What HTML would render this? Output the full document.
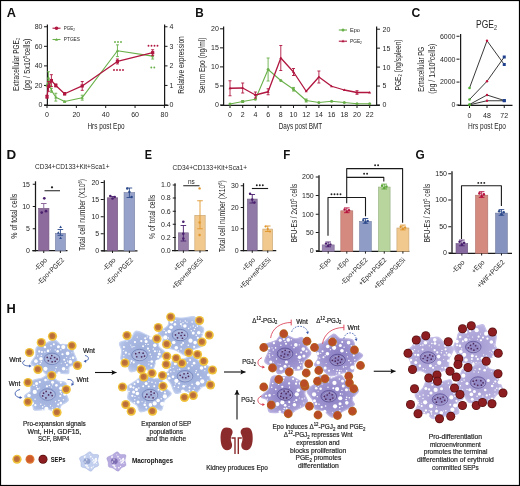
<!DOCTYPE html>
<html><head><meta charset="utf-8"><style>
html,body{margin:0;padding:0;background:#fff;}
svg{display:block;font-family:"Liberation Sans", sans-serif;will-change:transform;}
</style></head><body>
<svg width="520" height="486" viewBox="0 0 520 486">
<defs><radialGradient id="gB" cx="50%" cy="50%" r="55%"><stop offset="0" stop-color="#9cadda"/><stop offset="0.75" stop-color="#aabae3"/><stop offset="1" stop-color="#bccaeb"/></radialGradient><radialGradient id="gP" cx="50%" cy="50%" r="55%"><stop offset="0" stop-color="#897dc2"/><stop offset="0.65" stop-color="#9f96d1"/><stop offset="1" stop-color="#b8b0e0"/></radialGradient><radialGradient id="gS1" cx="45%" cy="45%" r="55%"><stop offset="0" stop-color="#b5653a"/><stop offset="1" stop-color="#c67e3a"/></radialGradient><radialGradient id="gP2" cx="50%" cy="50%" r="55%"><stop offset="0" stop-color="#a59bd2"/><stop offset="0.7" stop-color="#b3acdc"/><stop offset="1" stop-color="#c4bee6"/></radialGradient></defs>
<rect x="0" y="0" width="520" height="486" fill="#fff"/>
<text x="0" y="0" font-size="12.2" font-weight="bold" fill="#111" transform="matrix(1.046 0 0 1 6.71 16.6)">A</text>
<line x1="47.4" y1="24.5" x2="47.4" y2="106" stroke="#1a1a1a" stroke-width="1.25"/>
<line x1="44.2" y1="105.4" x2="168.5" y2="105.4" stroke="#1a1a1a" stroke-width="1.25"/>
<line x1="164.6" y1="24.5" x2="164.6" y2="106" stroke="#1a1a1a" stroke-width="1.25"/>
<line x1="44" y1="105.0" x2="47" y2="105.0" stroke="#1a1a1a" stroke-width="1"/>
<text x="42.5" y="107.4" font-size="7" text-anchor="end" fill="#262626" font-weight="normal">0</text>
<line x1="44" y1="85.44" x2="47" y2="85.44" stroke="#1a1a1a" stroke-width="1"/>
<text x="42.5" y="87.84" font-size="7" text-anchor="end" fill="#262626" font-weight="normal">20</text>
<line x1="44" y1="65.88" x2="47" y2="65.88" stroke="#1a1a1a" stroke-width="1"/>
<text x="42.5" y="68.28" font-size="7" text-anchor="end" fill="#262626" font-weight="normal">40</text>
<line x1="44" y1="46.32" x2="47" y2="46.32" stroke="#1a1a1a" stroke-width="1"/>
<text x="42.5" y="48.72" font-size="7" text-anchor="end" fill="#262626" font-weight="normal">60</text>
<line x1="44" y1="26.760000000000005" x2="47" y2="26.760000000000005" stroke="#1a1a1a" stroke-width="1"/>
<text x="42.5" y="29.160000000000004" font-size="7" text-anchor="end" fill="#262626" font-weight="normal">80</text>
<line x1="47.0" y1="105" x2="47.0" y2="108" stroke="#1a1a1a" stroke-width="1"/>
<text x="47.0" y="117" font-size="7" text-anchor="middle" fill="#262626" font-weight="normal">0</text>
<line x1="76.35" y1="105" x2="76.35" y2="108" stroke="#1a1a1a" stroke-width="1"/>
<text x="76.35" y="117" font-size="7" text-anchor="middle" fill="#262626" font-weight="normal">20</text>
<line x1="105.7" y1="105" x2="105.7" y2="108" stroke="#1a1a1a" stroke-width="1"/>
<text x="105.7" y="117" font-size="7" text-anchor="middle" fill="#262626" font-weight="normal">40</text>
<line x1="135.05" y1="105" x2="135.05" y2="108" stroke="#1a1a1a" stroke-width="1"/>
<text x="135.05" y="117" font-size="7" text-anchor="middle" fill="#262626" font-weight="normal">60</text>
<line x1="164.4" y1="105" x2="164.4" y2="108" stroke="#1a1a1a" stroke-width="1"/>
<text x="164.4" y="117" font-size="7" text-anchor="middle" fill="#262626" font-weight="normal">80</text>
<line x1="164.5" y1="105.0" x2="167.5" y2="105.0" stroke="#1a1a1a" stroke-width="1"/>
<text x="169.5" y="107.4" font-size="7" text-anchor="start" fill="#262626" font-weight="normal">0</text>
<line x1="164.5" y1="85.44" x2="167.5" y2="85.44" stroke="#1a1a1a" stroke-width="1"/>
<text x="169.5" y="87.84" font-size="7" text-anchor="start" fill="#262626" font-weight="normal">1</text>
<line x1="164.5" y1="65.88" x2="167.5" y2="65.88" stroke="#1a1a1a" stroke-width="1"/>
<text x="169.5" y="68.28" font-size="7" text-anchor="start" fill="#262626" font-weight="normal">2</text>
<line x1="164.5" y1="46.32000000000001" x2="167.5" y2="46.32000000000001" stroke="#1a1a1a" stroke-width="1"/>
<text x="169.5" y="48.720000000000006" font-size="7" text-anchor="start" fill="#262626" font-weight="normal">3</text>
<line x1="164.5" y1="26.760000000000005" x2="167.5" y2="26.760000000000005" stroke="#1a1a1a" stroke-width="1"/>
<text x="169.5" y="29.160000000000004" font-size="7" text-anchor="start" fill="#262626" font-weight="normal">4</text>
<text x="106" y="128.5" font-size="9" text-anchor="middle" fill="#262626" font-weight="normal" textLength="37" lengthAdjust="spacingAndGlyphs">Hrs post Epo</text>
<text x="18.8" y="64.5" font-size="9.5" text-anchor="middle" fill="#262626" font-weight="normal" textLength="53" lengthAdjust="spacingAndGlyphs" transform="rotate(-90 18.8 64.5)">Extracellular PGE<tspan font-size="5.5" dy="1.5">2</tspan></text>
<text x="29.8" y="64.5" font-size="9.5" text-anchor="middle" fill="#262626" font-weight="normal" textLength="52" lengthAdjust="spacingAndGlyphs" transform="rotate(-90 29.8 64.5)">(pg / 5x10<tspan font-size="5.5" dy="-3">5</tspan><tspan dy="3">cells)</tspan></text>
<text x="184" y="65" font-size="9" text-anchor="middle" fill="#262626" font-weight="normal" textLength="57.5" lengthAdjust="spacingAndGlyphs" transform="rotate(-90 184 65)">Relative expression</text>
<polyline points="47.00,85.44 48.47,77.62 51.40,90.33 55.80,97.18 64.61,101.58 82.22,97.67 117.44,50.72 152.66,56.10" fill="none" stroke="#6ab04a" stroke-width="1.1" stroke-linejoin="round"/>
<path d="M45.4,86.64 L48.6,86.64 L47.0,83.84 Z" fill="#6ab04a"/>
<line x1="48.4675" y1="83.48400000000001" x2="48.4675" y2="71.74799999999999" stroke="#6ab04a" stroke-width="0.9"/>
<line x1="46.9675" y1="71.74799999999999" x2="49.9675" y2="71.74799999999999" stroke="#6ab04a" stroke-width="0.9"/>
<line x1="46.9675" y1="83.48400000000001" x2="49.9675" y2="83.48400000000001" stroke="#6ab04a" stroke-width="0.9"/>
<path d="M46.8675,78.816 L50.0675,78.816 L48.4675,76.016 Z" fill="#6ab04a"/>
<line x1="51.4025" y1="92.286" x2="51.4025" y2="88.374" stroke="#6ab04a" stroke-width="0.9"/>
<line x1="49.9025" y1="88.374" x2="52.9025" y2="88.374" stroke="#6ab04a" stroke-width="0.9"/>
<line x1="49.9025" y1="92.286" x2="52.9025" y2="92.286" stroke="#6ab04a" stroke-width="0.9"/>
<path d="M49.8025,91.53 L53.002500000000005,91.53 L51.4025,88.73 Z" fill="#6ab04a"/>
<line x1="55.805" y1="101.088" x2="55.805" y2="93.264" stroke="#6ab04a" stroke-width="0.9"/>
<line x1="54.305" y1="93.264" x2="57.305" y2="93.264" stroke="#6ab04a" stroke-width="0.9"/>
<line x1="54.305" y1="101.088" x2="57.305" y2="101.088" stroke="#6ab04a" stroke-width="0.9"/>
<path d="M54.205,98.376 L57.405,98.376 L55.805,95.57600000000001 Z" fill="#6ab04a"/>
<line x1="64.61" y1="102.066" x2="64.61" y2="101.088" stroke="#6ab04a" stroke-width="0.9"/>
<line x1="63.11" y1="101.088" x2="66.11" y2="101.088" stroke="#6ab04a" stroke-width="0.9"/>
<line x1="63.11" y1="102.066" x2="66.11" y2="102.066" stroke="#6ab04a" stroke-width="0.9"/>
<path d="M63.01,102.777 L66.21,102.777 L64.61,99.977 Z" fill="#6ab04a"/>
<line x1="82.22" y1="100.11" x2="82.22" y2="95.22" stroke="#6ab04a" stroke-width="0.9"/>
<line x1="80.72" y1="95.22" x2="83.72" y2="95.22" stroke="#6ab04a" stroke-width="0.9"/>
<line x1="80.72" y1="100.11" x2="83.72" y2="100.11" stroke="#6ab04a" stroke-width="0.9"/>
<path d="M80.62,98.86500000000001 L83.82,98.86500000000001 L82.22,96.06500000000001 Z" fill="#6ab04a"/>
<line x1="117.44" y1="56.589" x2="117.44" y2="44.853" stroke="#6ab04a" stroke-width="0.9"/>
<line x1="115.94" y1="44.853" x2="118.94" y2="44.853" stroke="#6ab04a" stroke-width="0.9"/>
<line x1="115.94" y1="56.589" x2="118.94" y2="56.589" stroke="#6ab04a" stroke-width="0.9"/>
<path d="M115.84,51.92100000000001 L119.03999999999999,51.92100000000001 L117.44,49.121 Z" fill="#6ab04a"/>
<line x1="152.66" y1="59.034" x2="152.66" y2="53.166000000000004" stroke="#6ab04a" stroke-width="0.9"/>
<line x1="151.16" y1="53.166000000000004" x2="154.16" y2="53.166000000000004" stroke="#6ab04a" stroke-width="0.9"/>
<line x1="151.16" y1="59.034" x2="154.16" y2="59.034" stroke="#6ab04a" stroke-width="0.9"/>
<path d="M151.06,57.300000000000004 L154.26,57.300000000000004 L152.66,54.5 Z" fill="#6ab04a"/>
<polyline points="47.00,96.69 48.47,86.42 51.40,80.55 55.80,85.44 64.61,93.75 82.22,85.93 117.44,61.48 152.66,52.68" fill="none" stroke="#b0163f" stroke-width="1.3" stroke-linejoin="round"/>
<line x1="47.0" y1="98.154" x2="47.0" y2="95.22" stroke="#b0163f" stroke-width="0.9"/>
<line x1="45.5" y1="95.22" x2="48.5" y2="95.22" stroke="#b0163f" stroke-width="0.9"/>
<line x1="45.5" y1="98.154" x2="48.5" y2="98.154" stroke="#b0163f" stroke-width="0.9"/>
<rect x="45.40" y="95.09" width="3.2" height="3.2" fill="#b0163f"/>
<line x1="48.4675" y1="91.30799999999999" x2="48.4675" y2="81.52799999999999" stroke="#b0163f" stroke-width="0.9"/>
<line x1="46.9675" y1="81.52799999999999" x2="49.9675" y2="81.52799999999999" stroke="#b0163f" stroke-width="0.9"/>
<line x1="46.9675" y1="91.30799999999999" x2="49.9675" y2="91.30799999999999" stroke="#b0163f" stroke-width="0.9"/>
<rect x="46.87" y="84.82" width="3.2" height="3.2" fill="#b0163f"/>
<line x1="51.4025" y1="86.418" x2="51.4025" y2="74.682" stroke="#b0163f" stroke-width="0.9"/>
<line x1="49.9025" y1="74.682" x2="52.9025" y2="74.682" stroke="#b0163f" stroke-width="0.9"/>
<line x1="49.9025" y1="86.418" x2="52.9025" y2="86.418" stroke="#b0163f" stroke-width="0.9"/>
<rect x="49.80" y="78.95" width="3.2" height="3.2" fill="#b0163f"/>
<line x1="55.805" y1="86.907" x2="55.805" y2="83.973" stroke="#b0163f" stroke-width="0.9"/>
<line x1="54.305" y1="83.973" x2="57.305" y2="83.973" stroke="#b0163f" stroke-width="0.9"/>
<line x1="54.305" y1="86.907" x2="57.305" y2="86.907" stroke="#b0163f" stroke-width="0.9"/>
<rect x="54.20" y="83.84" width="3.2" height="3.2" fill="#b0163f"/>
<line x1="64.61" y1="94.9266" x2="64.61" y2="92.5794" stroke="#b0163f" stroke-width="0.9"/>
<line x1="63.11" y1="92.5794" x2="66.11" y2="92.5794" stroke="#b0163f" stroke-width="0.9"/>
<line x1="63.11" y1="94.9266" x2="66.11" y2="94.9266" stroke="#b0163f" stroke-width="0.9"/>
<rect x="63.01" y="92.15" width="3.2" height="3.2" fill="#b0163f"/>
<line x1="82.22" y1="90.33" x2="82.22" y2="81.52799999999999" stroke="#b0163f" stroke-width="0.9"/>
<line x1="80.72" y1="81.52799999999999" x2="83.72" y2="81.52799999999999" stroke="#b0163f" stroke-width="0.9"/>
<line x1="80.72" y1="90.33" x2="83.72" y2="90.33" stroke="#b0163f" stroke-width="0.9"/>
<rect x="80.62" y="84.33" width="3.2" height="3.2" fill="#b0163f"/>
<line x1="117.44" y1="63.924" x2="117.44" y2="59.034" stroke="#b0163f" stroke-width="0.9"/>
<line x1="115.94" y1="59.034" x2="118.94" y2="59.034" stroke="#b0163f" stroke-width="0.9"/>
<line x1="115.94" y1="63.924" x2="118.94" y2="63.924" stroke="#b0163f" stroke-width="0.9"/>
<rect x="115.84" y="59.88" width="3.2" height="3.2" fill="#b0163f"/>
<line x1="152.66" y1="55.611000000000004" x2="152.66" y2="49.743" stroke="#b0163f" stroke-width="0.9"/>
<line x1="151.16" y1="49.743" x2="154.16" y2="49.743" stroke="#b0163f" stroke-width="0.9"/>
<line x1="151.16" y1="55.611000000000004" x2="154.16" y2="55.611000000000004" stroke="#b0163f" stroke-width="0.9"/>
<rect x="151.06" y="51.08" width="3.2" height="3.2" fill="#b0163f"/>
<line x1="52.5" y1="28.2" x2="60.5" y2="28.2" stroke="#b0163f" stroke-width="1.1"/>
<circle cx="56.5" cy="28.2" r="1.8" fill="#b0163f"/>
<text x="63.8" y="30" font-size="5.6" text-anchor="start" fill="#262626" font-weight="normal" textLength="11.2" lengthAdjust="spacingAndGlyphs">PGE<tspan font-size="4" dy="1">2</tspan></text>
<line x1="52.5" y1="39.5" x2="60.5" y2="39.5" stroke="#6ab04a" stroke-width="1.1"/>
<path d="M55,40.7 L58,40.7 L56.5,38 Z" fill="#6ab04a"/>
<text x="63.8" y="41.1" font-size="5.6" text-anchor="start" fill="#262626" font-weight="normal" textLength="16.2" lengthAdjust="spacingAndGlyphs">PTGES</text>
<circle cx="115.00" cy="42" r="0.95" fill="#6ab04a"/>
<circle cx="118.00" cy="42" r="0.95" fill="#6ab04a"/>
<circle cx="121.00" cy="42" r="0.95" fill="#6ab04a"/>
<circle cx="114.00" cy="70" r="0.95" fill="#b0163f"/>
<circle cx="117.00" cy="70" r="0.95" fill="#b0163f"/>
<circle cx="120.00" cy="70" r="0.95" fill="#b0163f"/>
<circle cx="123.00" cy="70" r="0.95" fill="#b0163f"/>
<circle cx="148.50" cy="45.8" r="0.95" fill="#b0163f"/>
<circle cx="151.50" cy="45.8" r="0.95" fill="#b0163f"/>
<circle cx="154.50" cy="45.8" r="0.95" fill="#b0163f"/>
<circle cx="157.50" cy="45.8" r="0.95" fill="#b0163f"/>
<circle cx="151.30" cy="67.5" r="0.95" fill="#6ab04a"/>
<circle cx="154.30" cy="67.5" r="0.95" fill="#6ab04a"/>
<text x="0" y="0" font-size="12.2" font-weight="bold" fill="#111" transform="matrix(0.963 0 0 1 195.16 16.6)">B</text>
<line x1="223.6" y1="26.5" x2="223.6" y2="106" stroke="#1a1a1a" stroke-width="1.25"/>
<line x1="220.6" y1="105.4" x2="379.8" y2="105.4" stroke="#1a1a1a" stroke-width="1.25"/>
<line x1="376.6" y1="26.5" x2="376.6" y2="106" stroke="#1a1a1a" stroke-width="1.25"/>
<line x1="220" y1="105.0" x2="223" y2="105.0" stroke="#1a1a1a" stroke-width="1"/>
<text x="218.8" y="107.4" font-size="7" text-anchor="end" fill="#262626" font-weight="normal">0</text>
<line x1="377" y1="105.0" x2="380" y2="105.0" stroke="#1a1a1a" stroke-width="1"/>
<text x="382.5" y="107.4" font-size="7" text-anchor="start" fill="#262626" font-weight="normal">0</text>
<line x1="220" y1="85.95" x2="223" y2="85.95" stroke="#1a1a1a" stroke-width="1"/>
<text x="218.8" y="88.35000000000001" font-size="7" text-anchor="end" fill="#262626" font-weight="normal">5</text>
<line x1="377" y1="86.05" x2="380" y2="86.05" stroke="#1a1a1a" stroke-width="1"/>
<text x="382.5" y="88.45" font-size="7" text-anchor="start" fill="#262626" font-weight="normal">5</text>
<line x1="220" y1="66.9" x2="223" y2="66.9" stroke="#1a1a1a" stroke-width="1"/>
<text x="218.8" y="69.30000000000001" font-size="7" text-anchor="end" fill="#262626" font-weight="normal">10</text>
<line x1="377" y1="67.1" x2="380" y2="67.1" stroke="#1a1a1a" stroke-width="1"/>
<text x="382.5" y="69.5" font-size="7" text-anchor="start" fill="#262626" font-weight="normal">10</text>
<line x1="220" y1="47.85" x2="223" y2="47.85" stroke="#1a1a1a" stroke-width="1"/>
<text x="218.8" y="50.25" font-size="7" text-anchor="end" fill="#262626" font-weight="normal">15</text>
<line x1="377" y1="48.15" x2="380" y2="48.15" stroke="#1a1a1a" stroke-width="1"/>
<text x="382.5" y="50.55" font-size="7" text-anchor="start" fill="#262626" font-weight="normal">15</text>
<line x1="220" y1="28.799999999999997" x2="223" y2="28.799999999999997" stroke="#1a1a1a" stroke-width="1"/>
<text x="218.8" y="31.199999999999996" font-size="7" text-anchor="end" fill="#262626" font-weight="normal">20</text>
<line x1="377" y1="29.200000000000003" x2="380" y2="29.200000000000003" stroke="#1a1a1a" stroke-width="1"/>
<text x="382.5" y="31.6" font-size="7" text-anchor="start" fill="#262626" font-weight="normal">20</text>
<line x1="230.0" y1="105" x2="230.0" y2="108" stroke="#1a1a1a" stroke-width="1"/>
<text x="230.0" y="117" font-size="7" text-anchor="middle" fill="#262626" font-weight="normal">0</text>
<line x1="242.7" y1="105" x2="242.7" y2="108" stroke="#1a1a1a" stroke-width="1"/>
<text x="242.7" y="117" font-size="7" text-anchor="middle" fill="#262626" font-weight="normal">2</text>
<line x1="255.4" y1="105" x2="255.4" y2="108" stroke="#1a1a1a" stroke-width="1"/>
<text x="255.4" y="117" font-size="7" text-anchor="middle" fill="#262626" font-weight="normal">4</text>
<line x1="268.1" y1="105" x2="268.1" y2="108" stroke="#1a1a1a" stroke-width="1"/>
<text x="268.1" y="117" font-size="7" text-anchor="middle" fill="#262626" font-weight="normal">6</text>
<line x1="280.8" y1="105" x2="280.8" y2="108" stroke="#1a1a1a" stroke-width="1"/>
<text x="280.8" y="117" font-size="7" text-anchor="middle" fill="#262626" font-weight="normal">8</text>
<line x1="293.5" y1="105" x2="293.5" y2="108" stroke="#1a1a1a" stroke-width="1"/>
<text x="293.5" y="117" font-size="7" text-anchor="middle" fill="#262626" font-weight="normal">10</text>
<line x1="306.2" y1="105" x2="306.2" y2="108" stroke="#1a1a1a" stroke-width="1"/>
<text x="306.2" y="117" font-size="7" text-anchor="middle" fill="#262626" font-weight="normal">12</text>
<line x1="318.9" y1="105" x2="318.9" y2="108" stroke="#1a1a1a" stroke-width="1"/>
<text x="318.9" y="117" font-size="7" text-anchor="middle" fill="#262626" font-weight="normal">14</text>
<line x1="331.6" y1="105" x2="331.6" y2="108" stroke="#1a1a1a" stroke-width="1"/>
<text x="331.6" y="117" font-size="7" text-anchor="middle" fill="#262626" font-weight="normal">16</text>
<line x1="344.3" y1="105" x2="344.3" y2="108" stroke="#1a1a1a" stroke-width="1"/>
<text x="344.3" y="117" font-size="7" text-anchor="middle" fill="#262626" font-weight="normal">18</text>
<line x1="357.0" y1="105" x2="357.0" y2="108" stroke="#1a1a1a" stroke-width="1"/>
<text x="357.0" y="117" font-size="7" text-anchor="middle" fill="#262626" font-weight="normal">20</text>
<line x1="369.7" y1="105" x2="369.7" y2="108" stroke="#1a1a1a" stroke-width="1"/>
<text x="369.7" y="117" font-size="7" text-anchor="middle" fill="#262626" font-weight="normal">22</text>
<text x="300.4" y="128.5" font-size="9" text-anchor="middle" fill="#262626" font-weight="normal" textLength="43.5" lengthAdjust="spacingAndGlyphs">Days post BMT</text>
<text x="205" y="65.6" font-size="9" text-anchor="middle" fill="#262626" font-weight="normal" textLength="56" lengthAdjust="spacingAndGlyphs" transform="rotate(-90 205 65.6)">Serum Epo (ng/ml)</text>
<text x="400.8" y="65.0" font-size="9" text-anchor="middle" fill="#262626" font-weight="normal" textLength="51" lengthAdjust="spacingAndGlyphs" transform="rotate(-90 400.8 65.0)">PGE<tspan font-size="5.5" dy="1.5">2</tspan><tspan dy="-1.5"> (ng/spleen)</tspan></text>
<polyline points="230.00,104.00 242.70,101.50 255.40,99.25 268.10,69.50 280.80,80.50 293.50,89.25 306.20,100.50 318.90,102.50 331.60,101.25 344.30,102.50 357.00,103.75 369.70,103.75" fill="none" stroke="#6ab04a" stroke-width="1.1" stroke-linejoin="round"/>
<circle cx="230.00" cy="104" r="1.5" fill="#6ab04a"/>
<line x1="242.7" y1="100.5" x2="242.7" y2="102.5" stroke="#6ab04a" stroke-width="0.9"/>
<line x1="241.2" y1="100.5" x2="244.2" y2="100.5" stroke="#6ab04a" stroke-width="0.9"/>
<line x1="241.2" y1="102.5" x2="244.2" y2="102.5" stroke="#6ab04a" stroke-width="0.9"/>
<circle cx="242.70" cy="101.5" r="1.5" fill="#6ab04a"/>
<circle cx="255.40" cy="99.25" r="1.5" fill="#6ab04a"/>
<line x1="268.1" y1="58.0" x2="268.1" y2="81.0" stroke="#6ab04a" stroke-width="0.9"/>
<line x1="266.6" y1="58.0" x2="269.6" y2="58.0" stroke="#6ab04a" stroke-width="0.9"/>
<line x1="266.6" y1="81.0" x2="269.6" y2="81.0" stroke="#6ab04a" stroke-width="0.9"/>
<circle cx="268.10" cy="69.5" r="1.5" fill="#6ab04a"/>
<circle cx="280.80" cy="80.5" r="1.5" fill="#6ab04a"/>
<line x1="293.5" y1="87.45" x2="293.5" y2="91.05" stroke="#6ab04a" stroke-width="0.9"/>
<line x1="292.0" y1="87.45" x2="295.0" y2="87.45" stroke="#6ab04a" stroke-width="0.9"/>
<line x1="292.0" y1="91.05" x2="295.0" y2="91.05" stroke="#6ab04a" stroke-width="0.9"/>
<circle cx="293.50" cy="89.25" r="1.5" fill="#6ab04a"/>
<line x1="306.2" y1="99.0" x2="306.2" y2="102.0" stroke="#6ab04a" stroke-width="0.9"/>
<line x1="304.7" y1="99.0" x2="307.7" y2="99.0" stroke="#6ab04a" stroke-width="0.9"/>
<line x1="304.7" y1="102.0" x2="307.7" y2="102.0" stroke="#6ab04a" stroke-width="0.9"/>
<circle cx="306.20" cy="100.5" r="1.5" fill="#6ab04a"/>
<circle cx="318.90" cy="102.5" r="1.5" fill="#6ab04a"/>
<circle cx="331.60" cy="101.25" r="1.5" fill="#6ab04a"/>
<circle cx="344.30" cy="102.5" r="1.5" fill="#6ab04a"/>
<circle cx="357.00" cy="103.75" r="1.5" fill="#6ab04a"/>
<circle cx="369.70" cy="103.75" r="1.5" fill="#6ab04a"/>
<polyline points="230.00,88.25 242.70,88.00 255.40,95.00 268.10,91.75 280.80,58.00 293.50,72.00 306.20,91.25 318.90,77.00 331.60,86.25 344.30,90.00 357.00,92.50 369.70,92.50" fill="none" stroke="#b0163f" stroke-width="1.3" stroke-linejoin="round"/>
<line x1="230.0" y1="80.75" x2="230.0" y2="95.75" stroke="#b0163f" stroke-width="0.9"/>
<line x1="228.5" y1="80.75" x2="231.5" y2="80.75" stroke="#b0163f" stroke-width="0.9"/>
<line x1="228.5" y1="95.75" x2="231.5" y2="95.75" stroke="#b0163f" stroke-width="0.9"/>
<path d="M228.50,89.35 L231.50,89.35 L230.00,86.75 Z" fill="#b0163f"/>
<line x1="242.7" y1="83" x2="242.7" y2="93" stroke="#b0163f" stroke-width="0.9"/>
<line x1="241.2" y1="83" x2="244.2" y2="83" stroke="#b0163f" stroke-width="0.9"/>
<line x1="241.2" y1="93" x2="244.2" y2="93" stroke="#b0163f" stroke-width="0.9"/>
<path d="M241.20,89.1 L244.20,89.1 L242.70,86.5 Z" fill="#b0163f"/>
<line x1="255.4" y1="92" x2="255.4" y2="98" stroke="#b0163f" stroke-width="0.9"/>
<line x1="253.9" y1="92" x2="256.9" y2="92" stroke="#b0163f" stroke-width="0.9"/>
<line x1="253.9" y1="98" x2="256.9" y2="98" stroke="#b0163f" stroke-width="0.9"/>
<path d="M253.90,96.1 L256.90,96.1 L255.40,93.5 Z" fill="#b0163f"/>
<line x1="268.1" y1="88.75" x2="268.1" y2="94.75" stroke="#b0163f" stroke-width="0.9"/>
<line x1="266.6" y1="88.75" x2="269.6" y2="88.75" stroke="#b0163f" stroke-width="0.9"/>
<line x1="266.6" y1="94.75" x2="269.6" y2="94.75" stroke="#b0163f" stroke-width="0.9"/>
<path d="M266.60,92.85 L269.60,92.85 L268.10,90.25 Z" fill="#b0163f"/>
<line x1="280.8" y1="45.5" x2="280.8" y2="70.5" stroke="#b0163f" stroke-width="0.9"/>
<line x1="279.3" y1="45.5" x2="282.3" y2="45.5" stroke="#b0163f" stroke-width="0.9"/>
<line x1="279.3" y1="70.5" x2="282.3" y2="70.5" stroke="#b0163f" stroke-width="0.9"/>
<path d="M279.30,59.1 L282.30,59.1 L280.80,56.5 Z" fill="#b0163f"/>
<line x1="293.5" y1="68.5" x2="293.5" y2="75.5" stroke="#b0163f" stroke-width="0.9"/>
<line x1="292.0" y1="68.5" x2="295.0" y2="68.5" stroke="#b0163f" stroke-width="0.9"/>
<line x1="292.0" y1="75.5" x2="295.0" y2="75.5" stroke="#b0163f" stroke-width="0.9"/>
<path d="M292.00,73.1 L295.00,73.1 L293.50,70.5 Z" fill="#b0163f"/>
<path d="M304.70,92.35 L307.70,92.35 L306.20,89.75 Z" fill="#b0163f"/>
<line x1="318.9" y1="71" x2="318.9" y2="83" stroke="#b0163f" stroke-width="0.9"/>
<line x1="317.4" y1="71" x2="320.4" y2="71" stroke="#b0163f" stroke-width="0.9"/>
<line x1="317.4" y1="83" x2="320.4" y2="83" stroke="#b0163f" stroke-width="0.9"/>
<path d="M317.40,78.1 L320.40,78.1 L318.90,75.5 Z" fill="#b0163f"/>
<path d="M330.10,87.35 L333.10,87.35 L331.60,84.75 Z" fill="#b0163f"/>
<path d="M342.80,91.1 L345.80,91.1 L344.30,88.5 Z" fill="#b0163f"/>
<line x1="357.0" y1="90.7" x2="357.0" y2="94.3" stroke="#b0163f" stroke-width="0.9"/>
<line x1="355.5" y1="90.7" x2="358.5" y2="90.7" stroke="#b0163f" stroke-width="0.9"/>
<line x1="355.5" y1="94.3" x2="358.5" y2="94.3" stroke="#b0163f" stroke-width="0.9"/>
<path d="M355.50,93.6 L358.50,93.6 L357.00,91.0 Z" fill="#b0163f"/>
<path d="M368.20,93.6 L371.20,93.6 L369.70,91.0 Z" fill="#b0163f"/>
<line x1="338.8" y1="30" x2="347" y2="30" stroke="#6ab04a" stroke-width="1.1"/>
<circle cx="343" cy="30" r="1.5" fill="#6ab04a"/>
<text x="350" y="32.0" font-size="5.6" text-anchor="start" fill="#262626" font-weight="normal" textLength="10" lengthAdjust="spacingAndGlyphs">Epo</text>
<line x1="338.8" y1="41.2" x2="347" y2="41.2" stroke="#b0163f" stroke-width="1.1"/>
<path d="M341.5,42.3 L344.5,42.3 L343,39.6 Z" fill="#b0163f"/>
<text x="350" y="43.2" font-size="5.6" text-anchor="start" fill="#262626" font-weight="normal" textLength="12" lengthAdjust="spacingAndGlyphs">PGE<tspan font-size="4" dy="1">2</tspan></text>
<text x="0" y="0" font-size="12.2" font-weight="bold" fill="#111" transform="matrix(1.003 0 0 1 411.6 16.58)">C</text>
<line x1="460.6" y1="34" x2="460.6" y2="106" stroke="#1a1a1a" stroke-width="1.25"/>
<line x1="457.8" y1="105.4" x2="512.5" y2="105.4" stroke="#1a1a1a" stroke-width="1.25"/>
<line x1="456.5" y1="105.0" x2="459.5" y2="105.0" stroke="#1a1a1a" stroke-width="1"/>
<text x="455.5" y="107.4" font-size="7" text-anchor="end" fill="#262626" font-weight="normal">0</text>
<line x1="456.5" y1="82.084" x2="459.5" y2="82.084" stroke="#1a1a1a" stroke-width="1"/>
<text x="455.5" y="84.48400000000001" font-size="7" text-anchor="end" fill="#262626" font-weight="normal">2000</text>
<line x1="456.5" y1="59.168" x2="459.5" y2="59.168" stroke="#1a1a1a" stroke-width="1"/>
<text x="455.5" y="61.568" font-size="7" text-anchor="end" fill="#262626" font-weight="normal">4000</text>
<line x1="456.5" y1="36.25200000000001" x2="459.5" y2="36.25200000000001" stroke="#1a1a1a" stroke-width="1"/>
<text x="455.5" y="38.65200000000001" font-size="7" text-anchor="end" fill="#262626" font-weight="normal">6000</text>
<line x1="469.5" y1="105" x2="469.5" y2="108" stroke="#1a1a1a" stroke-width="1"/>
<text x="469.5" y="117.5" font-size="7" text-anchor="middle" fill="#262626" font-weight="normal">0</text>
<line x1="487" y1="105" x2="487" y2="108" stroke="#1a1a1a" stroke-width="1"/>
<text x="487" y="117.5" font-size="7" text-anchor="middle" fill="#262626" font-weight="normal">48</text>
<line x1="504.25" y1="105" x2="504.25" y2="108" stroke="#1a1a1a" stroke-width="1"/>
<text x="504.25" y="117.5" font-size="7" text-anchor="middle" fill="#262626" font-weight="normal">72</text>
<text x="487" y="128.5" font-size="9" text-anchor="middle" fill="#262626" font-weight="normal" textLength="38" lengthAdjust="spacingAndGlyphs">Hrs post Epo</text>
<text x="486.5" y="27.5" font-size="10" text-anchor="middle" fill="#262626" font-weight="normal" textLength="21" lengthAdjust="spacingAndGlyphs">PGE<tspan font-size="6.5" dy="2">2</tspan></text>
<text x="424.5" y="69.3" font-size="9" text-anchor="middle" fill="#262626" font-weight="normal" textLength="45" lengthAdjust="spacingAndGlyphs" transform="rotate(-90 424.5 69.3)">Extracellular PG</text>
<text x="434.5" y="68.75" font-size="9" text-anchor="middle" fill="#262626" font-weight="normal" textLength="50" lengthAdjust="spacingAndGlyphs" transform="rotate(-90 434.5 68.75)">(pg / 1x10<tspan font-size="5.5" dy="-3">6</tspan><tspan dy="3">cells)</tspan></text>
<polyline points="469.50,88.00 487.00,40.75 504.25,64.50" fill="none" stroke="#222" stroke-width="0.9" stroke-linejoin="round"/>
<polyline points="469.50,99.50 487.00,81.25 504.25,57.00" fill="none" stroke="#222" stroke-width="0.9" stroke-linejoin="round"/>
<polyline points="469.50,104.50 487.00,95.00 504.25,100.50" fill="none" stroke="#222" stroke-width="0.9" stroke-linejoin="round"/>
<polyline points="469.50,104.80 487.00,100.75 504.25,100.75" fill="none" stroke="#222" stroke-width="0.9" stroke-linejoin="round"/>
<circle cx="469.5" cy="88" r="1.3" fill="#4caf30"/>
<circle cx="487" cy="40.75" r="1.2" fill="#c0153e"/>
<rect x="502.75" y="63.0" width="3" height="3" fill="#1f3f8f"/>
<circle cx="469.5" cy="99.5" r="1.3" fill="#4caf30"/>
<circle cx="487" cy="81.25" r="1.2" fill="#c0153e"/>
<rect x="502.75" y="55.5" width="3" height="3" fill="#1f3f8f"/>
<circle cx="469.5" cy="104.5" r="1.3" fill="#4caf30"/>
<circle cx="487" cy="95" r="1.2" fill="#c0153e"/>
<rect x="502.75" y="99.0" width="3" height="3" fill="#1f3f8f"/>
<circle cx="469.5" cy="104.8" r="1.3" fill="#4caf30"/>
<circle cx="487" cy="100.75" r="1.2" fill="#c0153e"/>
<rect x="502.75" y="99.25" width="3" height="3" fill="#1f3f8f"/>
<text x="0" y="0" font-size="12.2" font-weight="bold" fill="#111" transform="matrix(1.098 0 0 1 6.54 158.9)">D</text>
<text x="72.25" y="168.6" font-size="7" text-anchor="middle" fill="#262626" font-weight="normal" textLength="74.5" lengthAdjust="spacingAndGlyphs">CD34+CD133+Kit+Sca1+</text>
<line x1="35.5" y1="181.3" x2="35.5" y2="251.3" stroke="#1a1a1a" stroke-width="1.25"/>
<line x1="32.3" y1="250.7" x2="67.5" y2="250.7" stroke="#1a1a1a" stroke-width="1.25"/>
<line x1="32.75" y1="250.75" x2="35.75" y2="250.75" stroke="#1a1a1a" stroke-width="1"/>
<text x="30" y="253.15" font-size="7" text-anchor="end" fill="#262626" font-weight="normal">0</text>
<line x1="32.75" y1="228.75" x2="35.75" y2="228.75" stroke="#1a1a1a" stroke-width="1"/>
<text x="30" y="231.15" font-size="7" text-anchor="end" fill="#262626" font-weight="normal">5</text>
<line x1="32.75" y1="206.5" x2="35.75" y2="206.5" stroke="#1a1a1a" stroke-width="1"/>
<text x="30" y="208.9" font-size="7" text-anchor="end" fill="#262626" font-weight="normal">10</text>
<line x1="32.75" y1="184.25" x2="35.75" y2="184.25" stroke="#1a1a1a" stroke-width="1"/>
<text x="30" y="186.65" font-size="7" text-anchor="end" fill="#262626" font-weight="normal">15</text>
<rect x="38.55" y="208.3" width="10.4" height="42.45" fill="#8d6b9c" stroke="#73577f" stroke-width="0.6"/>
<line x1="43.75" y1="212" x2="43.75" y2="203.5" stroke="#8d6b9c" stroke-width="1"/>
<line x1="40.95" y1="203.5" x2="46.55" y2="203.5" stroke="#8d6b9c" stroke-width="1"/>
<line x1="40.95" y1="212" x2="46.55" y2="212" stroke="#8d6b9c" stroke-width="1"/>
<circle cx="44.3" cy="198.3" r="1.35" fill="#4a1f6e"/>
<circle cx="41.7" cy="212.6" r="1.35" fill="#4a1f6e"/>
<circle cx="46" cy="211.2" r="1.35" fill="#4a1f6e"/>
<rect x="55.3" y="233.3" width="10.15" height="17.45" fill="#97a2ca" stroke="#7b84a5" stroke-width="0.6"/>
<line x1="60.4" y1="235.3" x2="60.4" y2="229.5" stroke="#2c4a8c" stroke-width="0.9"/>
<line x1="57.6" y1="229.5" x2="63.199999999999996" y2="229.5" stroke="#2c4a8c" stroke-width="0.9"/>
<line x1="57.6" y1="235.3" x2="63.199999999999996" y2="235.3" stroke="#2c4a8c" stroke-width="0.9"/>
<path d="M59.2,227.9 L62.0,227.9 L60.6,225.4Z" fill="#2c4a8c"/>
<path d="M56.9,233.7 L59.699999999999996,233.7 L58.3,231.2Z" fill="#2c4a8c"/>
<path d="M59.2,239 L62.0,239 L60.6,236.5Z" fill="#2c4a8c"/>
<line x1="44.5" y1="190.75" x2="60" y2="190.75" stroke="#1a1a1a" stroke-width="1"/>
<circle cx="52" cy="187.3" r="1.15" fill="#222"/>
<line x1="43.75" y1="250.75" x2="43.75" y2="253" stroke="#1a1a1a" stroke-width="1"/>
<line x1="60.4" y1="250.75" x2="60.4" y2="253" stroke="#1a1a1a" stroke-width="1"/>
<text x="47.6" y="260.5" font-size="7" text-anchor="end" fill="#262626" font-weight="normal" textLength="15" lengthAdjust="spacingAndGlyphs" transform="rotate(-45 47.6 260.5)">-Epo</text>
<text x="64.6" y="260.5" font-size="7" text-anchor="end" fill="#262626" font-weight="normal" textLength="35" lengthAdjust="spacingAndGlyphs" transform="rotate(-45 64.6 260.5)">-Epo+PGE2</text>
<text x="16.8" y="216.25" font-size="9" text-anchor="middle" fill="#262626" font-weight="normal" textLength="45" lengthAdjust="spacingAndGlyphs" transform="rotate(-90 16.8 216.25)">% of total cells</text>
<line x1="104.3" y1="180.3" x2="104.3" y2="251.4" stroke="#1a1a1a" stroke-width="1.25"/>
<line x1="101.3" y1="250.8" x2="137.5" y2="250.8" stroke="#1a1a1a" stroke-width="1.25"/>
<line x1="100.75" y1="250.75" x2="103.75" y2="250.75" stroke="#1a1a1a" stroke-width="1"/>
<text x="99.25" y="253.15" font-size="7" text-anchor="end" fill="#262626" font-weight="normal">0</text>
<line x1="100.75" y1="233.75" x2="103.75" y2="233.75" stroke="#1a1a1a" stroke-width="1"/>
<text x="99.25" y="236.15" font-size="7" text-anchor="end" fill="#262626" font-weight="normal">5</text>
<line x1="100.75" y1="216.75" x2="103.75" y2="216.75" stroke="#1a1a1a" stroke-width="1"/>
<text x="99.25" y="219.15" font-size="7" text-anchor="end" fill="#262626" font-weight="normal">10</text>
<line x1="100.75" y1="199.5" x2="103.75" y2="199.5" stroke="#1a1a1a" stroke-width="1"/>
<text x="99.25" y="201.9" font-size="7" text-anchor="end" fill="#262626" font-weight="normal">15</text>
<line x1="100.75" y1="182.5" x2="103.75" y2="182.5" stroke="#1a1a1a" stroke-width="1"/>
<text x="99.25" y="184.9" font-size="7" text-anchor="end" fill="#262626" font-weight="normal">20</text>
<rect x="107.3" y="197.8" width="10.4" height="52.95" fill="#8d6b9c" stroke="#73577f" stroke-width="0.6"/>
<circle cx="110.30" cy="196" r="1.3" fill="#4a1f6e"/>
<circle cx="112.50" cy="198.5" r="1.3" fill="#4a1f6e"/>
<circle cx="114.70" cy="197" r="1.3" fill="#4a1f6e"/>
<line x1="110" y1="196.5" x2="115" y2="196.5" stroke="#4a1f6e" stroke-width="0.9"/>
<rect x="124.05" y="192.5" width="10.65" height="58.250000000000014" fill="#97a2ca" stroke="#7b84a5" stroke-width="0.6"/>
<line x1="129.4" y1="197.5" x2="129.4" y2="188" stroke="#2c4a8c" stroke-width="0.9"/>
<line x1="126.60000000000001" y1="188" x2="132.20000000000002" y2="188" stroke="#2c4a8c" stroke-width="0.9"/>
<line x1="126.60000000000001" y1="197.5" x2="132.20000000000002" y2="197.5" stroke="#2c4a8c" stroke-width="0.9"/>
<circle cx="127.20" cy="188.5" r="1.2" fill="#2c4a8c"/>
<circle cx="129.40" cy="192" r="1.2" fill="#2c4a8c"/>
<circle cx="131.60" cy="197" r="1.2" fill="#2c4a8c"/>
<line x1="112.5" y1="250.75" x2="112.5" y2="253" stroke="#1a1a1a" stroke-width="1"/>
<line x1="129.4" y1="250.75" x2="129.4" y2="253" stroke="#1a1a1a" stroke-width="1"/>
<text x="116.1" y="260.5" font-size="7" text-anchor="end" fill="#262626" font-weight="normal" textLength="15" lengthAdjust="spacingAndGlyphs" transform="rotate(-45 116.1 260.5)">-Epo</text>
<text x="133.6" y="260.5" font-size="7" text-anchor="end" fill="#262626" font-weight="normal" textLength="35" lengthAdjust="spacingAndGlyphs" transform="rotate(-45 133.6 260.5)">-Epo+PGE2</text>
<text x="85" y="215" font-size="9" text-anchor="middle" fill="#262626" font-weight="normal" textLength="72" lengthAdjust="spacingAndGlyphs" transform="rotate(-90 85 215)">Total cell number (X10<tspan font-size="5.5" dy="-3">6</tspan><tspan dy="3">)</tspan></text>
<text x="0" y="0" font-size="12.2" font-weight="bold" fill="#111" transform="matrix(0.889 0 0 1 144.82 158.9)">E</text>
<text x="209.75" y="170.2" font-size="7" text-anchor="middle" fill="#262626" font-weight="normal" textLength="74.5" lengthAdjust="spacingAndGlyphs">CD34+CD133+Kit+Sca1+</text>
<line x1="175.0" y1="183.2" x2="175.0" y2="251.3" stroke="#1a1a1a" stroke-width="1.2"/>
<line x1="172" y1="250.7" x2="208" y2="250.7" stroke="#1a1a1a" stroke-width="1.25"/>
<line x1="172.75" y1="250.5" x2="175.75" y2="250.5" stroke="#1a1a1a" stroke-width="1"/>
<text x="170.75" y="252.9" font-size="7" text-anchor="end" fill="#262626" font-weight="normal">0.0</text>
<line x1="172.75" y1="237.5" x2="175.75" y2="237.5" stroke="#1a1a1a" stroke-width="1"/>
<text x="170.75" y="239.9" font-size="7" text-anchor="end" fill="#262626" font-weight="normal">0.2</text>
<line x1="172.75" y1="224.25" x2="175.75" y2="224.25" stroke="#1a1a1a" stroke-width="1"/>
<text x="170.75" y="226.65" font-size="7" text-anchor="end" fill="#262626" font-weight="normal">0.4</text>
<line x1="172.75" y1="211.25" x2="175.75" y2="211.25" stroke="#1a1a1a" stroke-width="1"/>
<text x="170.75" y="213.65" font-size="7" text-anchor="end" fill="#262626" font-weight="normal">0.6</text>
<line x1="172.75" y1="198" x2="175.75" y2="198" stroke="#1a1a1a" stroke-width="1"/>
<text x="170.75" y="200.4" font-size="7" text-anchor="end" fill="#262626" font-weight="normal">0.8</text>
<line x1="172.75" y1="185" x2="175.75" y2="185" stroke="#1a1a1a" stroke-width="1"/>
<text x="170.75" y="187.4" font-size="7" text-anchor="end" fill="#262626" font-weight="normal">1.0</text>
<rect x="178.3" y="232.8" width="10.15" height="17.7" fill="#9880ab" stroke="#7c688c" stroke-width="0.6"/>
<line x1="183.4" y1="241" x2="183.4" y2="225.5" stroke="#4a1f6e" stroke-width="0.9"/>
<line x1="180.6" y1="225.5" x2="186.20000000000002" y2="225.5" stroke="#4a1f6e" stroke-width="0.9"/>
<line x1="180.6" y1="241" x2="186.20000000000002" y2="241" stroke="#4a1f6e" stroke-width="0.9"/>
<circle cx="183.3" cy="221.8" r="1.3" fill="#4a1f6e"/>
<circle cx="183.3" cy="233.8" r="1.3" fill="#4a1f6e"/>
<circle cx="183.3" cy="238.6" r="1.3" fill="#4a1f6e"/>
<rect x="194.8" y="215.3" width="10.4" height="35.2" fill="#f1c98e" stroke="#c5a474" stroke-width="0.6"/>
<line x1="200" y1="228.75" x2="200" y2="200.75" stroke="#e0962c" stroke-width="0.9"/>
<line x1="197.2" y1="200.75" x2="202.8" y2="200.75" stroke="#e0962c" stroke-width="0.9"/>
<line x1="197.2" y1="228.75" x2="202.8" y2="228.75" stroke="#e0962c" stroke-width="0.9"/>
<circle cx="199.6" cy="188.4" r="1.2" fill="#e0962c"/>
<circle cx="199.6" cy="222.5" r="1.2" fill="#e0962c"/>
<circle cx="199.6" cy="235" r="1.2" fill="#e0962c"/>
<line x1="183.25" y1="185.75" x2="199.5" y2="185.75" stroke="#1a1a1a" stroke-width="1"/>
<text x="191.3" y="184.3" font-size="6.8" text-anchor="middle" fill="#262626" font-weight="normal" textLength="6.8" lengthAdjust="spacingAndGlyphs">ns</text>
<line x1="183.4" y1="250.5" x2="183.4" y2="252.8" stroke="#1a1a1a" stroke-width="1"/>
<line x1="200" y1="250.5" x2="200" y2="252.8" stroke="#1a1a1a" stroke-width="1"/>
<text x="187.1" y="260.5" font-size="7" text-anchor="end" fill="#262626" font-weight="normal" textLength="15.5" lengthAdjust="spacingAndGlyphs" transform="rotate(-45 187.1 260.5)">+Epo</text>
<text x="203.4" y="260.5" font-size="7" text-anchor="end" fill="#262626" font-weight="normal" textLength="41" lengthAdjust="spacingAndGlyphs" transform="rotate(-45 203.4 260.5)">+Epo+mPGESi</text>
<text x="155" y="216.9" font-size="9" text-anchor="middle" fill="#262626" font-weight="normal" textLength="44" lengthAdjust="spacingAndGlyphs" transform="rotate(-90 155 216.9)">% of total cells</text>
<line x1="243.5" y1="183.2" x2="243.5" y2="251.3" stroke="#1a1a1a" stroke-width="1.25"/>
<line x1="240.5" y1="250.7" x2="276.25" y2="250.7" stroke="#1a1a1a" stroke-width="1.25"/>
<line x1="240.75" y1="250.5" x2="243.75" y2="250.5" stroke="#1a1a1a" stroke-width="1"/>
<text x="238.75" y="252.9" font-size="7" text-anchor="end" fill="#262626" font-weight="normal">0</text>
<line x1="240.75" y1="228.75" x2="243.75" y2="228.75" stroke="#1a1a1a" stroke-width="1"/>
<text x="238.75" y="231.15" font-size="7" text-anchor="end" fill="#262626" font-weight="normal">10</text>
<line x1="240.75" y1="207.5" x2="243.75" y2="207.5" stroke="#1a1a1a" stroke-width="1"/>
<text x="238.75" y="209.9" font-size="7" text-anchor="end" fill="#262626" font-weight="normal">20</text>
<line x1="240.75" y1="185.75" x2="243.75" y2="185.75" stroke="#1a1a1a" stroke-width="1"/>
<text x="238.75" y="188.15" font-size="7" text-anchor="end" fill="#262626" font-weight="normal">30</text>
<rect x="247.3" y="199.05" width="9.9" height="51.45" fill="#9079a6" stroke="#766388" stroke-width="0.6"/>
<line x1="252.25" y1="203" x2="252.25" y2="194.5" stroke="#4a1f6e" stroke-width="0.9"/>
<line x1="249.45" y1="194.5" x2="255.05" y2="194.5" stroke="#4a1f6e" stroke-width="0.9"/>
<line x1="249.45" y1="203" x2="255.05" y2="203" stroke="#4a1f6e" stroke-width="0.9"/>
<circle cx="250.05" cy="193.75" r="1.2" fill="#4a1f6e"/>
<circle cx="252.25" cy="199.5" r="1.2" fill="#4a1f6e"/>
<circle cx="254.45" cy="202.5" r="1.2" fill="#4a1f6e"/>
<rect x="262.8" y="229.05" width="9.9" height="21.45" fill="#f1c98e" stroke="#c5a474" stroke-width="0.6"/>
<line x1="267.75" y1="231.5" x2="267.75" y2="226" stroke="#e0962c" stroke-width="0.9"/>
<line x1="264.95" y1="226" x2="270.55" y2="226" stroke="#e0962c" stroke-width="0.9"/>
<line x1="264.95" y1="231.5" x2="270.55" y2="231.5" stroke="#e0962c" stroke-width="0.9"/>
<circle cx="265.55" cy="226.5" r="1.1" fill="#e0962c"/>
<circle cx="267.75" cy="229" r="1.1" fill="#e0962c"/>
<circle cx="269.95" cy="231.5" r="1.1" fill="#e0962c"/>
<line x1="251.9" y1="188.5" x2="268.1" y2="188.5" stroke="#1a1a1a" stroke-width="1.1"/>
<circle cx="256.80" cy="185.2" r="0.95" fill="#222"/>
<circle cx="259.80" cy="185.2" r="0.95" fill="#222"/>
<circle cx="262.80" cy="185.2" r="0.95" fill="#222"/>
<line x1="252.25" y1="250.5" x2="252.25" y2="252.8" stroke="#1a1a1a" stroke-width="1"/>
<line x1="267.75" y1="250.5" x2="267.75" y2="252.8" stroke="#1a1a1a" stroke-width="1"/>
<text x="255.6" y="260.5" font-size="7" text-anchor="end" fill="#262626" font-weight="normal" textLength="15.5" lengthAdjust="spacingAndGlyphs" transform="rotate(-45 255.6 260.5)">+Epo</text>
<text x="271.1" y="260.5" font-size="7" text-anchor="end" fill="#262626" font-weight="normal" textLength="41" lengthAdjust="spacingAndGlyphs" transform="rotate(-45 271.1 260.5)">+Epo+mPGESi</text>
<text x="224.5" y="216.25" font-size="9" text-anchor="middle" fill="#262626" font-weight="normal" textLength="72" lengthAdjust="spacingAndGlyphs" transform="rotate(-90 224.5 216.25)">Total cell number (X10<tspan font-size="5.5" dy="-3">6</tspan><tspan dy="3">)</tspan></text>
<text x="0" y="0" font-size="12.2" font-weight="bold" fill="#111" transform="matrix(0.947 0 0 1 283.17 158.9)">F</text>
<line x1="319.0" y1="175.2" x2="319.0" y2="252" stroke="#1a1a1a" stroke-width="1.3"/>
<line x1="316" y1="251.4" x2="409.3" y2="251.4" stroke="#1a1a1a" stroke-width="1.2"/>
<line x1="315.75" y1="250.75" x2="318.75" y2="250.75" stroke="#1a1a1a" stroke-width="1"/>
<text x="313.75" y="253.15" font-size="7" text-anchor="end" fill="#262626" font-weight="normal">0</text>
<line x1="315.75" y1="232.5" x2="318.75" y2="232.5" stroke="#1a1a1a" stroke-width="1"/>
<text x="313.75" y="234.9" font-size="7" text-anchor="end" fill="#262626" font-weight="normal">50</text>
<line x1="315.75" y1="214.25" x2="318.75" y2="214.25" stroke="#1a1a1a" stroke-width="1"/>
<text x="313.75" y="216.65" font-size="7" text-anchor="end" fill="#262626" font-weight="normal">100</text>
<line x1="315.75" y1="195.5" x2="318.75" y2="195.5" stroke="#1a1a1a" stroke-width="1"/>
<text x="313.75" y="197.9" font-size="7" text-anchor="end" fill="#262626" font-weight="normal">150</text>
<line x1="315.75" y1="177" x2="318.75" y2="177" stroke="#1a1a1a" stroke-width="1"/>
<text x="313.75" y="179.4" font-size="7" text-anchor="end" fill="#262626" font-weight="normal">200</text>
<rect x="322.2" y="244.9" width="12.000000000000023" height="6.5000000000000115" fill="#9a84b2" stroke="#7e6c91" stroke-width="0.6"/>
<line x1="328.2" y1="246.79999999999998" x2="328.2" y2="242.0" stroke="#4a1f6e" stroke-width="0.9"/>
<line x1="325.4" y1="242.0" x2="331.0" y2="242.0" stroke="#4a1f6e" stroke-width="0.9"/>
<line x1="325.4" y1="246.79999999999998" x2="331.0" y2="246.79999999999998" stroke="#4a1f6e" stroke-width="0.9"/>
<circle cx="326.00" cy="243.6" r="1.2" fill="#4a1f6e"/>
<circle cx="328.20" cy="245.79999999999998" r="1.2" fill="#4a1f6e"/>
<circle cx="330.40" cy="244.4" r="1.2" fill="#4a1f6e"/>
<line x1="328.2" y1="251.4" x2="328.2" y2="253.6" stroke="#1a1a1a" stroke-width="1"/>
<rect x="340.8" y="210.8" width="12.000000000000023" height="40.60000000000001" fill="#d58a7f" stroke="#ae7168" stroke-width="0.6"/>
<line x1="346.8" y1="212.7" x2="346.8" y2="207.9" stroke="#b5123e" stroke-width="0.9"/>
<line x1="344.0" y1="207.9" x2="349.6" y2="207.9" stroke="#b5123e" stroke-width="0.9"/>
<line x1="344.0" y1="212.7" x2="349.6" y2="212.7" stroke="#b5123e" stroke-width="0.9"/>
<circle cx="344.60" cy="209.5" r="1.2" fill="#b5123e"/>
<circle cx="346.80" cy="211.7" r="1.2" fill="#b5123e"/>
<circle cx="349.00" cy="210.3" r="1.2" fill="#b5123e"/>
<line x1="346.8" y1="251.4" x2="346.8" y2="253.6" stroke="#1a1a1a" stroke-width="1"/>
<rect x="359.6" y="221.4" width="11.700000000000012" height="30.00000000000001" fill="#8f9dc6" stroke="#7580a2" stroke-width="0.6"/>
<line x1="365.45000000000005" y1="223.29999999999998" x2="365.45000000000005" y2="218.5" stroke="#2c4a8c" stroke-width="0.9"/>
<line x1="362.65000000000003" y1="218.5" x2="368.25000000000006" y2="218.5" stroke="#2c4a8c" stroke-width="0.9"/>
<line x1="362.65000000000003" y1="223.29999999999998" x2="368.25000000000006" y2="223.29999999999998" stroke="#2c4a8c" stroke-width="0.9"/>
<circle cx="363.25" cy="220.1" r="1.2" fill="#2c4a8c"/>
<circle cx="365.45" cy="222.29999999999998" r="1.2" fill="#2c4a8c"/>
<circle cx="367.65" cy="220.9" r="1.2" fill="#2c4a8c"/>
<line x1="365.45000000000005" y1="251.4" x2="365.45000000000005" y2="253.6" stroke="#1a1a1a" stroke-width="1"/>
<rect x="378.40000000000003" y="187.05" width="11.699999999999955" height="64.35000000000001" fill="#b7d59d" stroke="#96ae80" stroke-width="0.6"/>
<line x1="384.25" y1="188.95" x2="384.25" y2="184.15" stroke="#5aa636" stroke-width="0.9"/>
<line x1="381.45" y1="184.15" x2="387.05" y2="184.15" stroke="#5aa636" stroke-width="0.9"/>
<line x1="381.45" y1="188.95" x2="387.05" y2="188.95" stroke="#5aa636" stroke-width="0.9"/>
<circle cx="382.05" cy="185.75" r="1.2" fill="#5aa636"/>
<circle cx="384.25" cy="187.95" r="1.2" fill="#5aa636"/>
<circle cx="386.45" cy="186.55" r="1.2" fill="#5aa636"/>
<line x1="384.25" y1="251.4" x2="384.25" y2="253.6" stroke="#1a1a1a" stroke-width="1"/>
<rect x="396.90000000000003" y="228.0" width="11.999999999999966" height="23.400000000000016" fill="#f1c98e" stroke="#c5a474" stroke-width="0.6"/>
<line x1="402.9" y1="229.89999999999998" x2="402.9" y2="225.1" stroke="#e0962c" stroke-width="0.9"/>
<line x1="400.09999999999997" y1="225.1" x2="405.7" y2="225.1" stroke="#e0962c" stroke-width="0.9"/>
<line x1="400.09999999999997" y1="229.89999999999998" x2="405.7" y2="229.89999999999998" stroke="#e0962c" stroke-width="0.9"/>
<circle cx="400.70" cy="226.7" r="1.2" fill="#e0962c"/>
<circle cx="402.90" cy="228.89999999999998" r="1.2" fill="#e0962c"/>
<circle cx="405.10" cy="227.5" r="1.2" fill="#e0962c"/>
<line x1="402.9" y1="251.4" x2="402.9" y2="253.6" stroke="#1a1a1a" stroke-width="1"/>
<polyline points="328.00,235.80 328.00,197.50 365.50,197.50 365.50,216.20" fill="none" stroke="#1a1a1a" stroke-width="1.1" stroke-linejoin="round"/>
<circle cx="331.50" cy="194.3" r="0.95" fill="#222"/>
<circle cx="334.50" cy="194.3" r="0.95" fill="#222"/>
<circle cx="337.50" cy="194.3" r="0.95" fill="#222"/>
<circle cx="340.50" cy="194.3" r="0.95" fill="#222"/>
<polyline points="346.70,203.20 346.70,168.60 402.60,168.60 402.60,222.80" fill="none" stroke="#1a1a1a" stroke-width="1.1" stroke-linejoin="round"/>
<polyline points="346.70,177.40 383.80,177.40 383.80,181.50" fill="none" stroke="#1a1a1a" stroke-width="1.1" stroke-linejoin="round"/>
<circle cx="364.10" cy="173.8" r="0.95" fill="#222"/>
<circle cx="367.10" cy="173.8" r="0.95" fill="#222"/>
<circle cx="375.10" cy="165.2" r="0.95" fill="#222"/>
<circle cx="378.10" cy="165.2" r="0.95" fill="#222"/>
<text x="331.4" y="260.5" font-size="7" text-anchor="end" fill="#262626" font-weight="normal" textLength="15" lengthAdjust="spacingAndGlyphs" transform="rotate(-45 331.4 260.5)">-Epo</text>
<text x="349.4" y="260.5" font-size="7" text-anchor="end" fill="#262626" font-weight="normal" textLength="15.5" lengthAdjust="spacingAndGlyphs" transform="rotate(-45 349.4 260.5)">+Epo</text>
<text x="368.1" y="260.5" font-size="7" text-anchor="end" fill="#262626" font-weight="normal" textLength="35" lengthAdjust="spacingAndGlyphs" transform="rotate(-45 368.1 260.5)">-Epo+PGE2</text>
<text x="386.8" y="260.5" font-size="7" text-anchor="end" fill="#262626" font-weight="normal" textLength="36" lengthAdjust="spacingAndGlyphs" transform="rotate(-45 386.8 260.5)">+Epo+PGE2</text>
<text x="405.6" y="260.5" font-size="7" text-anchor="end" fill="#262626" font-weight="normal" textLength="41" lengthAdjust="spacingAndGlyphs" transform="rotate(-45 405.6 260.5)">+Epo+mPGESi</text>
<text x="297" y="213.1" font-size="9" text-anchor="middle" fill="#262626" font-weight="normal" textLength="58.5" lengthAdjust="spacingAndGlyphs" transform="rotate(-90 297 213.1)">BFU-Es / 2x10<tspan font-size="5.5" dy="-3">5</tspan><tspan dy="3"> cells</tspan></text>
<text x="0" y="0" font-size="12.2" font-weight="bold" fill="#111" transform="matrix(0.97 0 0 1 415.52 158.88)">G</text>
<line x1="452.0" y1="171.3" x2="452.0" y2="253.9" stroke="#1a1a1a" stroke-width="1.3"/>
<line x1="449" y1="253.3" x2="512" y2="253.3" stroke="#1a1a1a" stroke-width="1.2"/>
<line x1="448.25" y1="253" x2="451.25" y2="253" stroke="#1a1a1a" stroke-width="1"/>
<text x="447" y="255.4" font-size="7" text-anchor="end" fill="#262626" font-weight="normal">0</text>
<line x1="448.25" y1="226.75" x2="451.25" y2="226.75" stroke="#1a1a1a" stroke-width="1"/>
<text x="447" y="229.15" font-size="7" text-anchor="end" fill="#262626" font-weight="normal">50</text>
<line x1="448.25" y1="200" x2="451.25" y2="200" stroke="#1a1a1a" stroke-width="1"/>
<text x="447" y="202.4" font-size="7" text-anchor="end" fill="#262626" font-weight="normal">100</text>
<line x1="448.25" y1="173.75" x2="451.25" y2="173.75" stroke="#1a1a1a" stroke-width="1"/>
<text x="447" y="176.15" font-size="7" text-anchor="end" fill="#262626" font-weight="normal">150</text>
<rect x="456.0" y="243.55" width="11.700000000000012" height="9.75000000000001" fill="#876aa0" stroke="#6e5683" stroke-width="0.6"/>
<line x1="461.85" y1="245.75" x2="461.85" y2="240.05" stroke="#4a1f6e" stroke-width="0.9"/>
<line x1="459.05" y1="240.05" x2="464.65000000000003" y2="240.05" stroke="#4a1f6e" stroke-width="0.9"/>
<line x1="459.05" y1="245.75" x2="464.65000000000003" y2="245.75" stroke="#4a1f6e" stroke-width="0.9"/>
<circle cx="459.65" cy="241.75" r="1.3" fill="#4a1f6e"/>
<circle cx="461.85" cy="244.75" r="1.3" fill="#4a1f6e"/>
<circle cx="464.05" cy="242.75" r="1.3" fill="#4a1f6e"/>
<line x1="461.85" y1="253.3" x2="461.85" y2="255.5" stroke="#1a1a1a" stroke-width="1"/>
<rect x="475.5" y="195.20000000000002" width="12.300000000000034" height="58.10000000000001" fill="#d58a7f" stroke="#ae7168" stroke-width="0.6"/>
<line x1="481.65" y1="197.4" x2="481.65" y2="191.70000000000002" stroke="#b5123e" stroke-width="0.9"/>
<line x1="478.84999999999997" y1="191.70000000000002" x2="484.45" y2="191.70000000000002" stroke="#b5123e" stroke-width="0.9"/>
<line x1="478.84999999999997" y1="197.4" x2="484.45" y2="197.4" stroke="#b5123e" stroke-width="0.9"/>
<circle cx="479.45" cy="193.4" r="1.3" fill="#b5123e"/>
<circle cx="481.65" cy="196.4" r="1.3" fill="#b5123e"/>
<circle cx="483.85" cy="194.4" r="1.3" fill="#b5123e"/>
<line x1="481.65" y1="253.3" x2="481.65" y2="255.5" stroke="#1a1a1a" stroke-width="1"/>
<rect x="495.6" y="213.10000000000002" width="11.700000000000012" height="40.2" fill="#8793bf" stroke="#6e789c" stroke-width="0.6"/>
<line x1="501.45000000000005" y1="215.3" x2="501.45000000000005" y2="209.60000000000002" stroke="#2c4a8c" stroke-width="0.9"/>
<line x1="498.65000000000003" y1="209.60000000000002" x2="504.25000000000006" y2="209.60000000000002" stroke="#2c4a8c" stroke-width="0.9"/>
<line x1="498.65000000000003" y1="215.3" x2="504.25000000000006" y2="215.3" stroke="#2c4a8c" stroke-width="0.9"/>
<circle cx="499.25" cy="211.3" r="1.3" fill="#2c4a8c"/>
<circle cx="501.45" cy="214.3" r="1.3" fill="#2c4a8c"/>
<circle cx="503.65" cy="212.3" r="1.3" fill="#2c4a8c"/>
<line x1="501.45000000000005" y1="253.3" x2="501.45000000000005" y2="255.5" stroke="#1a1a1a" stroke-width="1"/>
<polyline points="461.50,239.10 461.50,185.80 501.40,185.80 501.40,206.00" fill="none" stroke="#1a1a1a" stroke-width="1.1" stroke-linejoin="round"/>
<circle cx="478.30" cy="182.9" r="0.95" fill="#222"/>
<circle cx="481.30" cy="182.9" r="0.95" fill="#222"/>
<circle cx="484.30" cy="182.9" r="0.95" fill="#222"/>
<text x="465.1" y="262.8" font-size="7" text-anchor="end" fill="#262626" font-weight="normal" textLength="15" lengthAdjust="spacingAndGlyphs" transform="rotate(-45 465.1 262.8)">-Epo</text>
<text x="485.1" y="262.8" font-size="7" text-anchor="end" fill="#262626" font-weight="normal" textLength="15.5" lengthAdjust="spacingAndGlyphs" transform="rotate(-45 485.1 262.8)">+Epo</text>
<text x="505.1" y="262.8" font-size="7" text-anchor="end" fill="#262626" font-weight="normal" textLength="36" lengthAdjust="spacingAndGlyphs" transform="rotate(-45 505.1 262.8)">+WIF+PGE2</text>
<text x="430" y="213.1" font-size="9" text-anchor="middle" fill="#262626" font-weight="normal" textLength="58.5" lengthAdjust="spacingAndGlyphs" transform="rotate(-90 430 213.1)">BFU-Es / 2x10<tspan font-size="5.5" dy="-3">5</tspan><tspan dy="3"> cells</tspan></text>
<text x="0" y="0" font-size="12.2" font-weight="bold" fill="#111" transform="matrix(1.053 0 0 1 6.58 312.6)">H</text>
<path d="M31.01,363.73 C30.15,361.54 34.58,358.48 35.50,355.75 C36.42,353.01 34.97,349.29 36.52,347.32 C38.07,345.34 41.81,345.13 44.79,343.89 C47.77,342.64 51.82,339.87 54.40,339.84 C56.99,339.82 57.20,342.77 60.30,343.74 C63.41,344.71 70.88,344.42 73.04,345.67 C75.20,346.91 72.57,348.31 73.28,351.21 C73.99,354.12 77.96,360.46 77.30,363.08 C76.63,365.69 70.78,365.18 69.29,366.91 C67.80,368.65 70.27,372.48 68.35,373.50 C66.43,374.52 61.21,372.77 57.79,373.04 C54.38,373.31 50.73,375.81 47.87,375.12 C45.02,374.42 43.48,370.77 40.67,368.88 C37.86,366.98 31.88,365.92 31.01,363.73Z" fill="url(#gB)" stroke="#c6d3f0" stroke-width="1.1"/>
<circle cx="41.29" cy="361.71" r="0.7" fill="#fff"/>
<circle cx="57.68" cy="351.29" r="1.3" fill="#fff"/>
<circle cx="50.22" cy="349.72" r="0.5" fill="#fff"/>
<circle cx="35.93" cy="361.17" r="1.8" fill="#fff"/>
<circle cx="53.80" cy="372.28" r="1.0" fill="#fff"/>
<circle cx="70.31" cy="361.91" r="1.8" fill="#fff"/>
<circle cx="45.42" cy="368.86" r="2.1" fill="#fff"/>
<circle cx="40.32" cy="363.42" r="0.7" fill="#fff"/>
<circle cx="44.85" cy="352.07" r="0.7" fill="#fff"/>
<circle cx="58.99" cy="373.00" r="1.5" fill="#fff"/>
<circle cx="70.21" cy="358.19" r="0.7" fill="#fff"/>
<circle cx="63.61" cy="368.79" r="1.8" fill="#fff"/>
<circle cx="58.41" cy="346.83" r="1.5" fill="#fff"/>
<circle cx="71.89" cy="352.76" r="0.5" fill="#fff"/>
<circle cx="60.87" cy="343.13" r="1.1" fill="#fff"/>
<circle cx="37.25" cy="364.28" r="0.5" fill="#fff"/>
<circle cx="63.27" cy="347.03" r="2.1" fill="#fff"/>
<circle cx="66.94" cy="364.95" r="1.0" fill="#fff"/>
<circle cx="66.90" cy="369.69" r="0.6" fill="#fff"/>
<circle cx="65.29" cy="362.52" r="0.7" fill="#fff"/>
<circle cx="44.92" cy="347.02" r="1.3" fill="#fff"/>
<circle cx="53.84" cy="344.24" r="1.0" fill="#fff"/>
<circle cx="61.24" cy="363.37" r="0.5" fill="#fff"/>
<circle cx="56.22" cy="367.56" r="0.7" fill="#fff"/>
<circle cx="39.21" cy="351.45" r="1.1" fill="#fff"/>
<circle cx="64.17" cy="359.82" r="1.0" fill="#fff"/>
<circle cx="62.44" cy="354.23" r="1.1" fill="#fff"/>
<circle cx="51.03" cy="345.85" r="0.8" fill="#fff"/>
<circle cx="48.00" cy="350.89" r="1.3" fill="#fff"/>
<circle cx="67.53" cy="361.03" r="0.6" fill="#fff"/>
<circle cx="66.63" cy="357.60" r="0.6" fill="#fff"/>
<circle cx="73.06" cy="357.75" r="1.3" fill="#fff"/>
<circle cx="41.28" cy="355.33" r="0.7" fill="#fff"/>
<circle cx="60.84" cy="349.69" r="0.7" fill="#fff"/>
<circle cx="69.22" cy="347.46" r="2.1" fill="#fff"/>
<circle cx="55.20" cy="349.89" r="0.6" fill="#fff"/>
<circle cx="37.74" cy="355.90" r="0.7" fill="#fff"/>
<circle cx="40.28" cy="369.24" r="1.0" fill="#fff"/>
<circle cx="67.59" cy="353.42" r="1.8" fill="#fff"/>
<circle cx="40.96" cy="358.69" r="1.8" fill="#fff"/>
<circle cx="38.78" cy="366.32" r="0.6" fill="#fff"/>
<circle cx="55.41" cy="369.88" r="0.5" fill="#fff"/>
<circle cx="42.95" cy="344.99" r="1.0" fill="#fff"/>
<circle cx="41.91" cy="351.97" r="1.0" fill="#fff"/>
<ellipse cx="52" cy="358.8" rx="7.8" ry="5.7" fill="#a3b1da" stroke="#7584bb" stroke-width="0.9"/>
<ellipse cx="52.6" cy="359.3" rx="6.2" ry="4.3" fill="none" stroke="#ffffff" stroke-opacity="0.35" stroke-width="0.6"/>
<circle cx="54.61" cy="357.51" r="0.85" fill="#4e2a5c"/>
<circle cx="47.21" cy="357.38" r="0.85" fill="#4e2a5c"/>
<circle cx="52.17" cy="361.79" r="0.85" fill="#4e2a5c"/>
<circle cx="48.34" cy="360.73" r="0.85" fill="#4e2a5c"/>
<circle cx="57.07" cy="359.11" r="0.85" fill="#4e2a5c"/>
<circle cx="50.68" cy="358.37" r="0.85" fill="#4e2a5c"/>
<circle cx="51.78" cy="355.55" r="0.85" fill="#4e2a5c"/>
<circle cx="55.18" cy="361.34" r="0.85" fill="#4e2a5c"/>
<path d="M24.54,396.47 C24.22,394.05 29.43,393.40 30.51,390.91 C31.59,388.42 29.09,383.70 31.00,381.53 C32.92,379.37 38.82,379.17 42.00,377.93 C45.18,376.69 47.48,373.66 50.07,374.12 C52.66,374.58 54.92,379.22 57.56,380.70 C60.19,382.18 64.47,380.94 65.87,382.99 C67.27,385.05 65.55,390.10 65.95,393.04 C66.36,395.98 69.07,398.61 68.29,400.66 C67.51,402.70 63.07,403.26 61.28,405.32 C59.50,407.39 59.65,412.37 57.58,413.05 C55.52,413.73 52.73,409.88 48.92,409.40 C45.10,408.93 37.44,410.88 34.69,410.21 C31.94,409.55 34.12,407.69 32.42,405.40 C30.73,403.11 24.86,398.88 24.54,396.47Z" fill="url(#gB)" stroke="#c6d3f0" stroke-width="1.1"/>
<circle cx="39.70" cy="387.99" r="0.5" fill="#fff"/>
<circle cx="60.35" cy="396.00" r="1.1" fill="#fff"/>
<circle cx="60.79" cy="403.09" r="1.3" fill="#fff"/>
<circle cx="32.04" cy="403.13" r="1.8" fill="#fff"/>
<circle cx="46.94" cy="386.28" r="1.1" fill="#fff"/>
<circle cx="35.34" cy="405.14" r="1.1" fill="#fff"/>
<circle cx="60.78" cy="382.55" r="1.1" fill="#fff"/>
<circle cx="63.40" cy="399.80" r="0.7" fill="#fff"/>
<circle cx="39.82" cy="382.06" r="1.1" fill="#fff"/>
<circle cx="58.22" cy="404.48" r="1.1" fill="#fff"/>
<circle cx="49.67" cy="378.18" r="0.7" fill="#fff"/>
<circle cx="46.39" cy="408.92" r="2.1" fill="#fff"/>
<circle cx="44.66" cy="405.33" r="0.5" fill="#fff"/>
<circle cx="64.76" cy="394.25" r="1.5" fill="#fff"/>
<circle cx="48.01" cy="380.04" r="0.6" fill="#fff"/>
<circle cx="52.52" cy="382.15" r="1.5" fill="#fff"/>
<circle cx="60.56" cy="391.64" r="1.0" fill="#fff"/>
<circle cx="50.48" cy="405.68" r="0.6" fill="#fff"/>
<circle cx="61.33" cy="393.71" r="0.6" fill="#fff"/>
<circle cx="60.91" cy="388.31" r="1.8" fill="#fff"/>
<circle cx="47.66" cy="378.08" r="0.5" fill="#fff"/>
<circle cx="28.97" cy="395.46" r="1.8" fill="#fff"/>
<circle cx="42.66" cy="406.87" r="0.8" fill="#fff"/>
<circle cx="34.75" cy="391.91" r="2.1" fill="#fff"/>
<circle cx="33.93" cy="385.26" r="0.8" fill="#fff"/>
<circle cx="42.70" cy="409.91" r="0.7" fill="#fff"/>
<circle cx="36.56" cy="383.52" r="1.5" fill="#fff"/>
<circle cx="37.66" cy="388.75" r="1.0" fill="#fff"/>
<circle cx="45.51" cy="379.96" r="1.3" fill="#fff"/>
<circle cx="52.38" cy="407.83" r="0.5" fill="#fff"/>
<circle cx="30.13" cy="400.01" r="1.0" fill="#fff"/>
<circle cx="56.40" cy="385.35" r="1.3" fill="#fff"/>
<circle cx="52.54" cy="410.12" r="1.0" fill="#fff"/>
<circle cx="52.41" cy="384.74" r="0.5" fill="#fff"/>
<circle cx="58.91" cy="400.44" r="0.8" fill="#fff"/>
<circle cx="55.10" cy="409.40" r="0.5" fill="#fff"/>
<circle cx="51.43" cy="386.94" r="0.5" fill="#fff"/>
<circle cx="40.83" cy="404.24" r="0.7" fill="#fff"/>
<circle cx="49.43" cy="385.55" r="0.8" fill="#fff"/>
<circle cx="36.55" cy="386.45" r="0.7" fill="#fff"/>
<circle cx="35.06" cy="399.24" r="0.7" fill="#fff"/>
<circle cx="64.33" cy="386.26" r="0.6" fill="#fff"/>
<circle cx="55.53" cy="401.72" r="0.6" fill="#fff"/>
<circle cx="57.08" cy="408.34" r="1.1" fill="#fff"/>
<ellipse cx="47.5" cy="394.5" rx="7.8" ry="5.7" fill="#a3b1da" stroke="#7584bb" stroke-width="0.9"/>
<ellipse cx="48.1" cy="395.0" rx="6.2" ry="4.3" fill="none" stroke="#ffffff" stroke-opacity="0.35" stroke-width="0.6"/>
<circle cx="48.59" cy="394.95" r="0.85" fill="#4e2a5c"/>
<circle cx="43.53" cy="393.13" r="0.85" fill="#4e2a5c"/>
<circle cx="45.93" cy="397.92" r="0.85" fill="#4e2a5c"/>
<circle cx="46.14" cy="391.44" r="0.85" fill="#4e2a5c"/>
<circle cx="52.18" cy="395.62" r="0.85" fill="#4e2a5c"/>
<circle cx="50.71" cy="392.72" r="0.85" fill="#4e2a5c"/>
<circle cx="42.68" cy="395.94" r="0.85" fill="#4e2a5c"/>
<circle cx="52.5" cy="336.25" r="4.6" fill="#f0c23a"/><circle cx="52.35" cy="336.00" r="3.1" fill="url(#gS1)"/>
<circle cx="41.25" cy="342.5" r="4.6" fill="#f0c23a"/><circle cx="41.10" cy="342.25" r="3.1" fill="url(#gS1)"/>
<circle cx="72" cy="345.75" r="4.6" fill="#f0c23a"/><circle cx="71.85" cy="345.50" r="3.1" fill="url(#gS1)"/>
<circle cx="29.5" cy="352.5" r="4.6" fill="#f0c23a"/><circle cx="29.35" cy="352.25" r="3.1" fill="url(#gS1)"/>
<circle cx="77.5" cy="365.5" r="4.6" fill="#f0c23a"/><circle cx="77.35" cy="365.25" r="3.1" fill="url(#gS1)"/>
<circle cx="38" cy="369.5" r="4.6" fill="#f0c23a"/><circle cx="37.85" cy="369.25" r="3.1" fill="url(#gS1)"/>
<circle cx="51.75" cy="375.5" r="4.6" fill="#f0c23a"/><circle cx="51.60" cy="375.25" r="3.1" fill="url(#gS1)"/>
<circle cx="28" cy="382.5" r="4.6" fill="#f0c23a"/><circle cx="27.85" cy="382.25" r="3.1" fill="url(#gS1)"/>
<circle cx="66.25" cy="389.5" r="4.6" fill="#f0c23a"/><circle cx="66.10" cy="389.25" r="3.1" fill="url(#gS1)"/>
<circle cx="28" cy="402" r="4.6" fill="#f0c23a"/><circle cx="27.85" cy="401.75" r="3.1" fill="url(#gS1)"/>
<circle cx="57" cy="412.5" r="4.6" fill="#f0c23a"/><circle cx="56.85" cy="412.25" r="3.1" fill="url(#gS1)"/>
<text x="9.2" y="361.5" font-size="6.6" text-anchor="start" fill="#151515" font-weight="normal" textLength="12" lengthAdjust="spacingAndGlyphs" stroke="#262626" stroke-width="0.2">Wnt</text>
<path d="M25,360.5 C21,362 22,366 29.5,366" fill="none" stroke="#3a59ad" stroke-width="0.9"/>
<path d="M31.70,366.00 L29.10,367.50 L29.10,364.50Z" fill="#3a59ad"/>
<text x="83" y="352.5" font-size="6.6" text-anchor="start" fill="#151515" font-weight="normal" textLength="11.8" lengthAdjust="spacingAndGlyphs" stroke="#262626" stroke-width="0.2">Wnt</text>
<path d="M85,355.5 C90,356.5 89,360.5 85.5,361" fill="none" stroke="#3a59ad" stroke-width="0.9"/>
<path d="M83.50,361.30 L86.10,359.80 L86.10,362.80Z" fill="#3a59ad"/>
<text x="8.7" y="386.2" font-size="6.6" text-anchor="start" fill="#151515" font-weight="normal" textLength="11.5" lengthAdjust="spacingAndGlyphs" stroke="#262626" stroke-width="0.2">Wnt</text>
<path d="M20,389.5 C13,391 14,397 20,397.6" fill="none" stroke="#3a59ad" stroke-width="0.9"/>
<path d="M22.30,397.80 L19.58,399.07 L19.84,396.08Z" fill="#3a59ad"/>
<text x="76.5" y="382.3" font-size="6.6" text-anchor="start" fill="#151515" font-weight="normal" textLength="12" lengthAdjust="spacingAndGlyphs" stroke="#262626" stroke-width="0.2">Wnt</text>
<path d="M67.5,379.4 C73,379 74,383 72.5,384.5" fill="none" stroke="#3a59ad" stroke-width="0.9"/>
<path d="M71.20,385.80 L71.72,382.84 L74.02,384.77Z" fill="#3a59ad"/>
<line x1="95" y1="372.5" x2="116.5" y2="372.5" stroke="#111" stroke-width="1.1"/>
<path d="M116.50,372.50 L111.50,375.10 L112.30,372.50 L111.50,369.90Z" fill="#111"/>
<text x="54.4" y="425.5" font-size="7.1" text-anchor="middle" fill="#262626" font-weight="normal" textLength="62.7" lengthAdjust="spacingAndGlyphs" stroke="#262626" stroke-width="0.2">Pro-expansion signals</text>
<text x="54.4" y="433.6" font-size="7.1" text-anchor="middle" fill="#262626" font-weight="normal" textLength="53.7" lengthAdjust="spacingAndGlyphs" stroke="#262626" stroke-width="0.2">Wnt, HH, GDF15,</text>
<text x="53.75" y="441.1" font-size="7.1" text-anchor="middle" fill="#262626" font-weight="normal" textLength="31.5" lengthAdjust="spacingAndGlyphs" stroke="#262626" stroke-width="0.2">SCF, BMP4</text>
<path d="M152.05,370.81 C149.75,372.08 146.19,368.49 142.67,368.65 C139.14,368.81 133.48,372.52 130.88,371.76 C128.28,371.00 128.69,366.15 127.04,364.09 C125.39,362.03 121.88,361.64 120.99,359.41 C120.10,357.17 121.92,353.45 121.71,350.66 C121.50,347.87 118.23,344.57 119.71,342.64 C121.20,340.71 127.85,340.98 130.60,339.07 C133.35,337.15 133.10,331.61 136.20,331.15 C139.31,330.68 145.76,334.83 149.24,336.27 C152.72,337.71 155.45,338.06 157.08,339.80 C158.70,341.54 157.59,344.41 159.00,346.69 C160.41,348.98 165.95,351.13 165.53,353.51 C165.12,355.89 158.74,358.10 156.50,360.98 C154.25,363.87 154.36,369.53 152.05,370.81Z" fill="url(#gB)" stroke="#c6d3f0" stroke-width="1.1"/>
<circle cx="148.92" cy="361.44" r="0.5" fill="#fff"/>
<circle cx="143.04" cy="346.18" r="1.0" fill="#fff"/>
<circle cx="144.68" cy="367.53" r="0.8" fill="#fff"/>
<circle cx="159.30" cy="353.98" r="1.5" fill="#fff"/>
<circle cx="133.77" cy="362.37" r="1.1" fill="#fff"/>
<circle cx="123.94" cy="347.10" r="1.0" fill="#fff"/>
<circle cx="145.24" cy="338.32" r="1.1" fill="#fff"/>
<circle cx="139.14" cy="365.95" r="1.8" fill="#fff"/>
<circle cx="130.76" cy="345.09" r="0.6" fill="#fff"/>
<circle cx="126.97" cy="341.50" r="0.6" fill="#fff"/>
<circle cx="157.43" cy="361.74" r="2.1" fill="#fff"/>
<circle cx="151.32" cy="365.68" r="1.0" fill="#fff"/>
<circle cx="153.25" cy="348.96" r="0.7" fill="#fff"/>
<circle cx="150.23" cy="354.25" r="0.8" fill="#fff"/>
<circle cx="154.85" cy="345.33" r="1.8" fill="#fff"/>
<circle cx="134.95" cy="342.03" r="1.1" fill="#fff"/>
<circle cx="133.97" cy="346.58" r="0.7" fill="#fff"/>
<circle cx="126.62" cy="363.36" r="0.8" fill="#fff"/>
<circle cx="131.47" cy="360.94" r="1.0" fill="#fff"/>
<circle cx="125.88" cy="352.63" r="1.1" fill="#fff"/>
<circle cx="141.58" cy="369.17" r="1.1" fill="#fff"/>
<circle cx="151.73" cy="361.54" r="1.3" fill="#fff"/>
<circle cx="151.43" cy="356.83" r="0.7" fill="#fff"/>
<circle cx="154.94" cy="351.24" r="1.1" fill="#fff"/>
<circle cx="130.34" cy="362.93" r="0.6" fill="#fff"/>
<circle cx="150.86" cy="338.04" r="1.8" fill="#fff"/>
<circle cx="123.64" cy="350.60" r="0.6" fill="#fff"/>
<circle cx="148.81" cy="364.16" r="0.6" fill="#fff"/>
<circle cx="146.14" cy="341.45" r="1.5" fill="#fff"/>
<circle cx="123.89" cy="358.76" r="1.1" fill="#fff"/>
<circle cx="127.53" cy="360.17" r="1.0" fill="#fff"/>
<circle cx="132.05" cy="347.06" r="0.7" fill="#fff"/>
<circle cx="129.07" cy="353.97" r="0.8" fill="#fff"/>
<circle cx="123.82" cy="355.66" r="0.6" fill="#fff"/>
<circle cx="158.18" cy="356.88" r="1.1" fill="#fff"/>
<circle cx="147.99" cy="348.56" r="1.1" fill="#fff"/>
<circle cx="137.28" cy="337.16" r="0.6" fill="#fff"/>
<circle cx="141.28" cy="341.10" r="1.1" fill="#fff"/>
<circle cx="149.26" cy="350.73" r="0.8" fill="#fff"/>
<circle cx="157.28" cy="350.90" r="0.5" fill="#fff"/>
<circle cx="147.26" cy="336.92" r="0.6" fill="#fff"/>
<circle cx="145.47" cy="344.60" r="0.5" fill="#fff"/>
<circle cx="159.62" cy="351.24" r="0.7" fill="#fff"/>
<circle cx="148.05" cy="344.41" r="0.7" fill="#fff"/>
<ellipse cx="139.5" cy="355" rx="7.8" ry="5.7" fill="#a3b1da" stroke="#7584bb" stroke-width="0.9"/>
<ellipse cx="140.1" cy="355.5" rx="6.2" ry="4.3" fill="none" stroke="#ffffff" stroke-opacity="0.35" stroke-width="0.6"/>
<circle cx="141.59" cy="356.83" r="0.85" fill="#4e2a5c"/>
<circle cx="135.66" cy="353.65" r="0.85" fill="#4e2a5c"/>
<circle cx="143.13" cy="353.20" r="0.85" fill="#4e2a5c"/>
<circle cx="136.75" cy="356.76" r="0.85" fill="#4e2a5c"/>
<circle cx="144.55" cy="356.06" r="0.85" fill="#4e2a5c"/>
<circle cx="139.20" cy="352.55" r="0.85" fill="#4e2a5c"/>
<path d="M203.74,328.86 C204.14,331.38 200.90,336.88 200.89,339.60 C200.88,342.32 204.92,343.51 203.67,345.17 C202.41,346.84 196.37,347.89 193.36,349.59 C190.34,351.29 188.49,355.29 185.58,355.38 C182.66,355.47 179.60,351.64 175.85,350.12 C172.10,348.61 165.21,348.36 163.08,346.28 C160.95,344.19 163.88,339.78 163.06,337.63 C162.24,335.49 157.36,335.44 158.16,333.42 C158.96,331.40 165.92,328.09 167.86,325.51 C169.80,322.92 167.33,319.15 169.79,317.91 C172.25,316.66 178.49,318.23 182.62,318.05 C186.74,317.86 191.90,315.72 194.55,316.79 C197.19,317.86 196.96,322.47 198.49,324.48 C200.02,326.49 203.34,326.34 203.74,328.86Z" fill="url(#gB)" stroke="#c6d3f0" stroke-width="1.1"/>
<circle cx="190.49" cy="340.64" r="2.1" fill="#fff"/>
<circle cx="194.10" cy="346.87" r="1.1" fill="#fff"/>
<circle cx="178.54" cy="350.83" r="0.6" fill="#fff"/>
<circle cx="197.87" cy="337.91" r="1.1" fill="#fff"/>
<circle cx="197.38" cy="326.08" r="0.8" fill="#fff"/>
<circle cx="174.93" cy="324.33" r="1.3" fill="#fff"/>
<circle cx="195.09" cy="342.59" r="1.8" fill="#fff"/>
<circle cx="173.72" cy="342.53" r="1.8" fill="#fff"/>
<circle cx="187.03" cy="322.17" r="0.6" fill="#fff"/>
<circle cx="180.95" cy="323.93" r="1.0" fill="#fff"/>
<circle cx="184.85" cy="325.93" r="1.8" fill="#fff"/>
<circle cx="165.32" cy="337.39" r="2.1" fill="#fff"/>
<circle cx="176.30" cy="347.75" r="1.8" fill="#fff"/>
<circle cx="188.59" cy="328.55" r="0.7" fill="#fff"/>
<circle cx="193.26" cy="326.00" r="0.7" fill="#fff"/>
<circle cx="180.33" cy="321.02" r="0.6" fill="#fff"/>
<circle cx="183.12" cy="342.92" r="1.0" fill="#fff"/>
<circle cx="169.23" cy="331.48" r="1.8" fill="#fff"/>
<circle cx="198.71" cy="332.73" r="1.8" fill="#fff"/>
<circle cx="192.12" cy="321.97" r="0.8" fill="#fff"/>
<circle cx="183.03" cy="322.71" r="0.6" fill="#fff"/>
<circle cx="188.30" cy="345.23" r="0.8" fill="#fff"/>
<circle cx="165.98" cy="332.62" r="1.1" fill="#fff"/>
<circle cx="181.06" cy="349.05" r="0.8" fill="#fff"/>
<circle cx="167.32" cy="340.04" r="0.7" fill="#fff"/>
<circle cx="170.33" cy="342.51" r="0.5" fill="#fff"/>
<circle cx="181.47" cy="344.82" r="1.0" fill="#fff"/>
<circle cx="168.50" cy="337.94" r="0.6" fill="#fff"/>
<circle cx="194.45" cy="329.44" r="0.8" fill="#fff"/>
<circle cx="171.11" cy="327.31" r="1.8" fill="#fff"/>
<circle cx="169.68" cy="347.01" r="1.1" fill="#fff"/>
<circle cx="185.26" cy="320.97" r="0.7" fill="#fff"/>
<circle cx="193.23" cy="332.98" r="1.5" fill="#fff"/>
<circle cx="164.13" cy="330.41" r="0.7" fill="#fff"/>
<circle cx="191.26" cy="330.74" r="0.7" fill="#fff"/>
<circle cx="181.81" cy="325.85" r="0.6" fill="#fff"/>
<circle cx="202.07" cy="333.35" r="0.6" fill="#fff"/>
<circle cx="200.61" cy="341.36" r="1.0" fill="#fff"/>
<circle cx="171.40" cy="321.66" r="1.8" fill="#fff"/>
<circle cx="190.36" cy="326.88" r="0.5" fill="#fff"/>
<circle cx="195.49" cy="327.29" r="0.6" fill="#fff"/>
<circle cx="196.24" cy="335.25" r="0.8" fill="#fff"/>
<circle cx="175.36" cy="320.46" r="0.6" fill="#fff"/>
<circle cx="171.37" cy="344.69" r="0.7" fill="#fff"/>
<ellipse cx="180" cy="335" rx="7.8" ry="5.7" fill="#a3b1da" stroke="#7584bb" stroke-width="0.9"/>
<ellipse cx="180.6" cy="335.5" rx="6.2" ry="4.3" fill="none" stroke="#ffffff" stroke-opacity="0.35" stroke-width="0.6"/>
<circle cx="181.98" cy="332.48" r="0.85" fill="#4e2a5c"/>
<circle cx="182.46" cy="338.23" r="0.85" fill="#4e2a5c"/>
<circle cx="178.86" cy="333.10" r="0.85" fill="#4e2a5c"/>
<circle cx="177.50" cy="337.79" r="0.85" fill="#4e2a5c"/>
<circle cx="184.58" cy="335.25" r="0.85" fill="#4e2a5c"/>
<circle cx="175.45" cy="334.92" r="0.85" fill="#4e2a5c"/>
<circle cx="181.10" cy="335.50" r="0.85" fill="#4e2a5c"/>
<path d="M212.35,368.56 C213.76,370.47 208.95,371.40 208.69,373.95 C208.43,376.51 211.92,381.68 210.81,383.87 C209.71,386.07 204.81,385.37 202.09,387.12 C199.37,388.87 197.36,393.73 194.50,394.38 C191.64,395.04 188.13,391.23 184.95,391.06 C181.78,390.90 177.83,394.59 175.47,393.37 C173.10,392.15 172.54,386.76 170.76,383.76 C168.98,380.76 165.14,377.55 164.79,375.36 C164.44,373.17 167.30,373.16 168.67,370.64 C170.05,368.11 170.51,362.16 173.04,360.20 C175.57,358.25 180.58,359.64 183.86,358.90 C187.13,358.16 189.96,355.17 192.70,355.77 C195.43,356.37 196.99,360.34 200.26,362.47 C203.54,364.61 210.95,366.64 212.35,368.56Z" fill="url(#gB)" stroke="#c6d3f0" stroke-width="1.1"/>
<circle cx="177.75" cy="369.81" r="0.5" fill="#fff"/>
<circle cx="173.00" cy="376.76" r="1.3" fill="#fff"/>
<circle cx="197.84" cy="383.36" r="2.1" fill="#fff"/>
<circle cx="201.53" cy="367.93" r="1.8" fill="#fff"/>
<circle cx="195.65" cy="372.61" r="0.6" fill="#fff"/>
<circle cx="182.86" cy="391.23" r="1.8" fill="#fff"/>
<circle cx="202.26" cy="381.43" r="2.1" fill="#fff"/>
<circle cx="194.07" cy="363.17" r="1.3" fill="#fff"/>
<circle cx="179.59" cy="369.31" r="0.8" fill="#fff"/>
<circle cx="180.57" cy="361.63" r="1.3" fill="#fff"/>
<circle cx="189.55" cy="387.43" r="1.0" fill="#fff"/>
<circle cx="176.36" cy="380.80" r="2.1" fill="#fff"/>
<circle cx="180.92" cy="366.45" r="0.6" fill="#fff"/>
<circle cx="205.12" cy="366.95" r="1.1" fill="#fff"/>
<circle cx="168.11" cy="374.19" r="1.1" fill="#fff"/>
<circle cx="173.24" cy="367.33" r="0.6" fill="#fff"/>
<circle cx="169.25" cy="378.32" r="1.3" fill="#fff"/>
<circle cx="200.77" cy="377.22" r="0.8" fill="#fff"/>
<circle cx="183.68" cy="386.20" r="1.3" fill="#fff"/>
<circle cx="175.33" cy="363.67" r="1.5" fill="#fff"/>
<circle cx="192.06" cy="365.65" r="0.8" fill="#fff"/>
<circle cx="190.15" cy="359.97" r="1.0" fill="#fff"/>
<circle cx="178.35" cy="387.41" r="0.8" fill="#fff"/>
<circle cx="192.09" cy="384.41" r="0.8" fill="#fff"/>
<circle cx="193.12" cy="391.09" r="1.0" fill="#fff"/>
<circle cx="188.66" cy="368.33" r="1.1" fill="#fff"/>
<circle cx="196.24" cy="370.72" r="0.8" fill="#fff"/>
<circle cx="189.32" cy="390.64" r="0.8" fill="#fff"/>
<circle cx="207.87" cy="380.19" r="0.5" fill="#fff"/>
<circle cx="170.63" cy="368.48" r="0.6" fill="#fff"/>
<circle cx="208.25" cy="374.88" r="1.3" fill="#fff"/>
<circle cx="175.31" cy="383.91" r="0.6" fill="#fff"/>
<circle cx="183.90" cy="364.78" r="2.1" fill="#fff"/>
<circle cx="174.01" cy="371.20" r="0.6" fill="#fff"/>
<circle cx="170.80" cy="371.75" r="0.7" fill="#fff"/>
<circle cx="204.83" cy="370.72" r="0.6" fill="#fff"/>
<circle cx="185.08" cy="361.09" r="0.6" fill="#fff"/>
<circle cx="197.97" cy="374.60" r="1.0" fill="#fff"/>
<circle cx="174.40" cy="386.56" r="0.7" fill="#fff"/>
<circle cx="179.11" cy="383.48" r="1.1" fill="#fff"/>
<circle cx="185.87" cy="385.14" r="0.5" fill="#fff"/>
<circle cx="194.30" cy="388.02" r="0.8" fill="#fff"/>
<circle cx="200.93" cy="387.29" r="0.6" fill="#fff"/>
<circle cx="187.50" cy="362.75" r="0.8" fill="#fff"/>
<ellipse cx="185" cy="376.25" rx="7.8" ry="5.7" fill="#a3b1da" stroke="#7584bb" stroke-width="0.9"/>
<ellipse cx="185.6" cy="376.75" rx="6.2" ry="4.3" fill="none" stroke="#ffffff" stroke-opacity="0.35" stroke-width="0.6"/>
<circle cx="188.47" cy="376.29" r="0.85" fill="#4e2a5c"/>
<circle cx="185.80" cy="377.76" r="0.85" fill="#4e2a5c"/>
<circle cx="184.04" cy="373.79" r="0.85" fill="#4e2a5c"/>
<circle cx="180.16" cy="375.32" r="0.85" fill="#4e2a5c"/>
<circle cx="182.64" cy="377.47" r="0.85" fill="#4e2a5c"/>
<circle cx="187.79" cy="373.27" r="0.85" fill="#4e2a5c"/>
<path d="M144.67,374.83 C147.74,374.41 150.99,377.82 153.84,378.54 C156.68,379.26 159.97,377.72 161.73,379.14 C163.49,380.57 162.82,384.66 164.40,387.09 C165.99,389.53 171.26,391.49 171.24,393.74 C171.22,395.99 165.90,397.89 164.29,400.60 C162.67,403.31 163.26,408.74 161.56,410.00 C159.85,411.26 157.55,407.85 154.06,408.16 C150.57,408.47 143.46,412.33 140.62,411.87 C137.78,411.41 139.11,407.50 137.02,405.39 C134.92,403.29 129.50,401.46 128.06,399.26 C126.63,397.05 128.53,394.29 128.41,392.16 C128.29,390.03 126.20,388.33 127.36,386.48 C128.53,384.63 132.53,382.99 135.42,381.05 C138.30,379.10 141.60,375.24 144.67,374.83Z" fill="url(#gB)" stroke="#c6d3f0" stroke-width="1.1"/>
<circle cx="130.64" cy="386.63" r="1.3" fill="#fff"/>
<circle cx="161.57" cy="390.82" r="1.3" fill="#fff"/>
<circle cx="150.42" cy="404.91" r="1.8" fill="#fff"/>
<circle cx="143.63" cy="377.98" r="0.5" fill="#fff"/>
<circle cx="144.77" cy="404.69" r="1.3" fill="#fff"/>
<circle cx="137.35" cy="393.50" r="1.8" fill="#fff"/>
<circle cx="132.30" cy="395.80" r="1.1" fill="#fff"/>
<circle cx="148.72" cy="386.44" r="1.0" fill="#fff"/>
<circle cx="164.90" cy="396.44" r="2.1" fill="#fff"/>
<circle cx="154.68" cy="403.44" r="2.1" fill="#fff"/>
<circle cx="155.51" cy="382.91" r="0.7" fill="#fff"/>
<circle cx="145.98" cy="379.29" r="1.0" fill="#fff"/>
<circle cx="149.26" cy="377.01" r="0.5" fill="#fff"/>
<circle cx="162.18" cy="403.81" r="2.1" fill="#fff"/>
<circle cx="134.59" cy="384.08" r="1.0" fill="#fff"/>
<circle cx="138.89" cy="397.79" r="0.5" fill="#fff"/>
<circle cx="138.06" cy="402.08" r="1.5" fill="#fff"/>
<circle cx="158.74" cy="386.93" r="0.6" fill="#fff"/>
<circle cx="143.20" cy="386.36" r="1.0" fill="#fff"/>
<circle cx="164.96" cy="392.50" r="1.0" fill="#fff"/>
<circle cx="137.94" cy="381.65" r="1.3" fill="#fff"/>
<circle cx="163.75" cy="386.73" r="0.6" fill="#fff"/>
<circle cx="146.13" cy="383.62" r="1.5" fill="#fff"/>
<circle cx="128.97" cy="391.47" r="0.7" fill="#fff"/>
<circle cx="138.83" cy="387.96" r="0.8" fill="#fff"/>
<circle cx="133.60" cy="391.89" r="1.5" fill="#fff"/>
<circle cx="158.12" cy="400.55" r="1.8" fill="#fff"/>
<circle cx="161.22" cy="398.71" r="0.8" fill="#fff"/>
<circle cx="158.50" cy="389.72" r="1.0" fill="#fff"/>
<circle cx="146.30" cy="407.48" r="1.0" fill="#fff"/>
<circle cx="145.21" cy="402.18" r="0.6" fill="#fff"/>
<circle cx="136.45" cy="389.53" r="1.5" fill="#fff"/>
<circle cx="142.09" cy="401.53" r="0.6" fill="#fff"/>
<circle cx="134.40" cy="402.81" r="0.8" fill="#fff"/>
<circle cx="154.28" cy="386.26" r="1.0" fill="#fff"/>
<circle cx="133.44" cy="387.58" r="1.1" fill="#fff"/>
<circle cx="134.95" cy="396.38" r="0.6" fill="#fff"/>
<circle cx="134.79" cy="399.70" r="0.7" fill="#fff"/>
<circle cx="150.24" cy="408.52" r="0.5" fill="#fff"/>
<circle cx="159.87" cy="383.04" r="1.0" fill="#fff"/>
<circle cx="141.47" cy="378.68" r="0.6" fill="#fff"/>
<circle cx="154.08" cy="378.50" r="0.5" fill="#fff"/>
<circle cx="151.98" cy="382.20" r="0.8" fill="#fff"/>
<circle cx="148.85" cy="381.57" r="0.6" fill="#fff"/>
<ellipse cx="150" cy="395" rx="7.8" ry="5.7" fill="#a3b1da" stroke="#7584bb" stroke-width="0.9"/>
<ellipse cx="150.6" cy="395.5" rx="6.2" ry="4.3" fill="none" stroke="#ffffff" stroke-opacity="0.35" stroke-width="0.6"/>
<circle cx="154.16" cy="393.08" r="0.85" fill="#4e2a5c"/>
<circle cx="151.10" cy="394.76" r="0.85" fill="#4e2a5c"/>
<circle cx="146.89" cy="394.28" r="0.85" fill="#4e2a5c"/>
<circle cx="148.97" cy="397.00" r="0.85" fill="#4e2a5c"/>
<circle cx="151.06" cy="391.65" r="0.85" fill="#4e2a5c"/>
<circle cx="153.07" cy="397.86" r="0.85" fill="#4e2a5c"/>
<circle cx="145.55" cy="396.90" r="0.85" fill="#4e2a5c"/>
<circle cx="170.75" cy="317" r="4.6" fill="#f0c23a"/><circle cx="170.60" cy="316.75" r="3.1" fill="url(#gS1)"/>
<circle cx="199.5" cy="320.5" r="4.6" fill="#f0c23a"/><circle cx="199.35" cy="320.25" r="3.1" fill="url(#gS1)"/>
<circle cx="158.25" cy="327.5" r="4.6" fill="#f0c23a"/><circle cx="158.10" cy="327.25" r="3.1" fill="url(#gS1)"/>
<circle cx="127" cy="335.5" r="4.6" fill="#f0c23a"/><circle cx="126.85" cy="335.25" r="3.1" fill="url(#gS1)"/>
<circle cx="157" cy="338.75" r="4.6" fill="#f0c23a"/><circle cx="156.85" cy="338.50" r="3.1" fill="url(#gS1)"/>
<circle cx="209.25" cy="335" r="4.6" fill="#f0c23a"/><circle cx="209.10" cy="334.75" r="3.1" fill="url(#gS1)"/>
<circle cx="166.75" cy="344.25" r="4.6" fill="#f0c23a"/><circle cx="166.60" cy="344.00" r="3.1" fill="url(#gS1)"/>
<circle cx="202" cy="342" r="4.6" fill="#f0c23a"/><circle cx="201.85" cy="341.75" r="3.1" fill="url(#gS1)"/>
<circle cx="188.75" cy="352.5" r="4.6" fill="#f0c23a"/><circle cx="188.60" cy="352.25" r="3.1" fill="url(#gS1)"/>
<circle cx="197.5" cy="354.5" r="4.6" fill="#f0c23a"/><circle cx="197.35" cy="354.25" r="3.1" fill="url(#gS1)"/>
<circle cx="166.75" cy="356.25" r="4.6" fill="#f0c23a"/><circle cx="166.60" cy="356.00" r="3.1" fill="url(#gS1)"/>
<circle cx="176.25" cy="358.25" r="4.6" fill="#f0c23a"/><circle cx="176.10" cy="358.00" r="3.1" fill="url(#gS1)"/>
<circle cx="203.75" cy="361.25" r="4.6" fill="#f0c23a"/><circle cx="203.60" cy="361.00" r="3.1" fill="url(#gS1)"/>
<circle cx="125" cy="363" r="4.6" fill="#f0c23a"/><circle cx="124.85" cy="362.75" r="3.1" fill="url(#gS1)"/>
<circle cx="166.25" cy="364.5" r="4.6" fill="#f0c23a"/><circle cx="166.10" cy="364.25" r="3.1" fill="url(#gS1)"/>
<circle cx="182" cy="363.25" r="4.6" fill="#f0c23a"/><circle cx="181.85" cy="363.00" r="3.1" fill="url(#gS1)"/>
<circle cx="141.25" cy="369.5" r="4.6" fill="#f0c23a"/><circle cx="141.10" cy="369.25" r="3.1" fill="url(#gS1)"/>
<circle cx="152" cy="373.25" r="4.6" fill="#f0c23a"/><circle cx="151.85" cy="373.00" r="3.1" fill="url(#gS1)"/>
<circle cx="143.75" cy="377" r="4.6" fill="#f0c23a"/><circle cx="143.60" cy="376.75" r="3.1" fill="url(#gS1)"/>
<circle cx="162.5" cy="375.5" r="4.6" fill="#f0c23a"/><circle cx="162.35" cy="375.25" r="3.1" fill="url(#gS1)"/>
<circle cx="212.5" cy="370" r="4.6" fill="#f0c23a"/><circle cx="212.35" cy="369.75" r="3.1" fill="url(#gS1)"/>
<circle cx="122.5" cy="387" r="4.6" fill="#f0c23a"/><circle cx="122.35" cy="386.75" r="3.1" fill="url(#gS1)"/>
<circle cx="163" cy="386.25" r="4.6" fill="#f0c23a"/><circle cx="162.85" cy="386.00" r="3.1" fill="url(#gS1)"/>
<circle cx="210.5" cy="385" r="4.6" fill="#f0c23a"/><circle cx="210.35" cy="384.75" r="3.1" fill="url(#gS1)"/>
<circle cx="184.5" cy="397.5" r="4.6" fill="#f0c23a"/><circle cx="184.35" cy="397.25" r="3.1" fill="url(#gS1)"/>
<circle cx="193.25" cy="395.5" r="4.6" fill="#f0c23a"/><circle cx="193.10" cy="395.25" r="3.1" fill="url(#gS1)"/>
<circle cx="125.75" cy="404.5" r="4.6" fill="#f0c23a"/><circle cx="125.60" cy="404.25" r="3.1" fill="url(#gS1)"/>
<circle cx="131.25" cy="411.25" r="4.6" fill="#f0c23a"/><circle cx="131.10" cy="411.00" r="3.1" fill="url(#gS1)"/>
<circle cx="152.5" cy="411.25" r="4.6" fill="#f0c23a"/><circle cx="152.35" cy="411.00" r="3.1" fill="url(#gS1)"/>
<line x1="224" y1="372" x2="245.5" y2="372" stroke="#111" stroke-width="1.1"/>
<path d="M245.50,372.00 L240.50,374.60 L241.30,372.00 L240.50,369.40Z" fill="#111"/>
<text x="166.25" y="425.6" font-size="7.1" text-anchor="middle" fill="#262626" font-weight="normal" textLength="50" lengthAdjust="spacingAndGlyphs" stroke="#262626" stroke-width="0.2">Expansion of SEP</text>
<text x="166.25" y="433.6" font-size="7.1" text-anchor="middle" fill="#262626" font-weight="normal" textLength="33.5" lengthAdjust="spacingAndGlyphs" stroke="#262626" stroke-width="0.2">populations</text>
<text x="166.25" y="441.1" font-size="7.1" text-anchor="middle" fill="#262626" font-weight="normal" textLength="40" lengthAdjust="spacingAndGlyphs" stroke="#262626" stroke-width="0.2">and the niche</text>
<path d="M310.83,353.67 C310.18,356.24 304.56,360.25 303.05,362.89 C301.55,365.53 304.21,368.27 301.81,369.53 C299.40,370.78 292.55,369.68 288.63,370.43 C284.71,371.18 280.64,374.46 278.30,374.01 C275.95,373.56 276.82,369.78 274.57,367.74 C272.33,365.69 265.86,364.56 264.84,361.74 C263.81,358.92 268.65,353.58 268.42,350.81 C268.19,348.04 262.21,346.86 263.45,345.14 C264.68,343.42 272.65,342.35 275.83,340.47 C279.02,338.59 279.42,334.14 282.56,333.86 C285.71,333.57 291.38,338.12 294.70,338.74 C298.01,339.36 300.39,336.13 302.44,337.59 C304.49,339.05 305.59,344.82 306.99,347.50 C308.39,350.18 311.49,351.11 310.83,353.67Z" fill="url(#gP)" stroke="#bdb5e2" stroke-width="1.1"/>
<circle cx="298.92" cy="360.30" r="0.5" fill="#fff"/>
<circle cx="269.82" cy="352.33" r="0.6" fill="#fff"/>
<circle cx="280.12" cy="364.37" r="0.6" fill="#fff"/>
<circle cx="303.85" cy="355.96" r="1.5" fill="#fff"/>
<circle cx="275.96" cy="339.08" r="0.7" fill="#fff"/>
<circle cx="294.20" cy="369.89" r="0.7" fill="#fff"/>
<circle cx="281.21" cy="368.70" r="1.8" fill="#fff"/>
<circle cx="299.54" cy="357.21" r="1.8" fill="#fff"/>
<circle cx="285.02" cy="366.16" r="1.5" fill="#fff"/>
<circle cx="288.24" cy="339.88" r="1.8" fill="#fff"/>
<circle cx="295.81" cy="344.92" r="1.8" fill="#fff"/>
<circle cx="280.87" cy="345.29" r="0.8" fill="#fff"/>
<circle cx="270.74" cy="361.89" r="1.5" fill="#fff"/>
<circle cx="278.08" cy="364.02" r="0.5" fill="#fff"/>
<circle cx="272.73" cy="355.35" r="0.6" fill="#fff"/>
<circle cx="266.83" cy="352.48" r="0.5" fill="#fff"/>
<circle cx="303.26" cy="349.08" r="1.8" fill="#fff"/>
<circle cx="269.73" cy="357.02" r="0.7" fill="#fff"/>
<circle cx="272.01" cy="347.83" r="0.6" fill="#fff"/>
<circle cx="301.17" cy="352.52" r="1.0" fill="#fff"/>
<circle cx="300.65" cy="365.21" r="0.7" fill="#fff"/>
<circle cx="289.04" cy="365.99" r="0.8" fill="#fff"/>
<circle cx="301.76" cy="362.16" r="0.7" fill="#fff"/>
<circle cx="280.21" cy="340.37" r="1.5" fill="#fff"/>
<circle cx="291.53" cy="368.31" r="1.3" fill="#fff"/>
<circle cx="306.49" cy="351.37" r="1.1" fill="#fff"/>
<circle cx="298.53" cy="367.72" r="1.5" fill="#fff"/>
<circle cx="299.24" cy="344.84" r="0.6" fill="#fff"/>
<circle cx="296.41" cy="354.32" r="0.8" fill="#fff"/>
<circle cx="269.24" cy="355.02" r="0.8" fill="#fff"/>
<circle cx="285.05" cy="341.46" r="0.8" fill="#fff"/>
<circle cx="283.91" cy="339.11" r="1.0" fill="#fff"/>
<circle cx="273.91" cy="343.21" r="1.1" fill="#fff"/>
<circle cx="294.03" cy="347.58" r="0.8" fill="#fff"/>
<circle cx="299.62" cy="362.29" r="0.7" fill="#fff"/>
<circle cx="273.24" cy="362.31" r="0.5" fill="#fff"/>
<circle cx="291.22" cy="345.10" r="0.6" fill="#fff"/>
<circle cx="276.50" cy="359.05" r="0.7" fill="#fff"/>
<circle cx="286.43" cy="362.04" r="1.5" fill="#fff"/>
<circle cx="285.98" cy="343.74" r="1.0" fill="#fff"/>
<circle cx="291.30" cy="339.76" r="0.7" fill="#fff"/>
<circle cx="273.25" cy="350.01" r="0.7" fill="#fff"/>
<circle cx="275.60" cy="347.91" r="0.8" fill="#fff"/>
<circle cx="269.03" cy="348.41" r="1.1" fill="#fff"/>
<ellipse cx="285" cy="353.75" rx="7.8" ry="5.7" fill="#8a7fbe" stroke="#5f5296" stroke-width="0.9"/>
<ellipse cx="285.6" cy="354.25" rx="6.2" ry="4.3" fill="none" stroke="#ffffff" stroke-opacity="0.35" stroke-width="0.6"/>
<circle cx="284.62" cy="354.03" r="0.85" fill="#4e2a5c"/>
<circle cx="287.92" cy="354.79" r="0.85" fill="#4e2a5c"/>
<circle cx="285.22" cy="350.26" r="0.85" fill="#4e2a5c"/>
<circle cx="281.06" cy="355.82" r="0.85" fill="#4e2a5c"/>
<circle cx="283.96" cy="357.09" r="0.85" fill="#4e2a5c"/>
<circle cx="289.47" cy="351.80" r="0.85" fill="#4e2a5c"/>
<circle cx="282.23" cy="351.73" r="0.85" fill="#4e2a5c"/>
<path d="M307.51,403.25 C306.10,405.93 299.39,407.99 296.31,409.88 C293.24,411.76 291.68,414.11 289.05,414.55 C286.41,415.00 283.82,413.02 280.50,412.55 C277.18,412.08 271.33,413.78 269.12,411.74 C266.92,409.71 268.63,402.84 267.28,400.35 C265.92,397.86 260.77,398.71 261.02,396.78 C261.27,394.84 266.90,392.11 268.75,388.76 C270.59,385.41 269.60,378.70 272.10,376.68 C274.60,374.66 280.70,376.82 283.74,376.66 C286.78,376.49 287.86,375.13 290.31,375.68 C292.76,376.23 295.80,378.32 298.45,379.94 C301.09,381.55 305.13,383.08 306.18,385.38 C307.23,387.68 304.54,390.76 304.76,393.74 C304.98,396.72 308.92,400.56 307.51,403.25Z" fill="url(#gP)" stroke="#bdb5e2" stroke-width="1.1"/>
<circle cx="302.86" cy="388.26" r="0.6" fill="#fff"/>
<circle cx="299.30" cy="397.95" r="0.5" fill="#fff"/>
<circle cx="276.06" cy="406.88" r="0.5" fill="#fff"/>
<circle cx="296.31" cy="400.03" r="1.1" fill="#fff"/>
<circle cx="269.56" cy="395.41" r="1.3" fill="#fff"/>
<circle cx="294.46" cy="404.77" r="1.8" fill="#fff"/>
<circle cx="271.46" cy="401.58" r="1.1" fill="#fff"/>
<circle cx="296.84" cy="394.37" r="2.1" fill="#fff"/>
<circle cx="304.38" cy="398.12" r="0.6" fill="#fff"/>
<circle cx="274.01" cy="394.43" r="0.5" fill="#fff"/>
<circle cx="275.79" cy="389.42" r="0.8" fill="#fff"/>
<circle cx="282.40" cy="402.40" r="2.1" fill="#fff"/>
<circle cx="279.78" cy="411.73" r="1.3" fill="#fff"/>
<circle cx="294.22" cy="401.38" r="0.6" fill="#fff"/>
<circle cx="267.27" cy="399.18" r="0.6" fill="#fff"/>
<circle cx="282.09" cy="380.20" r="1.5" fill="#fff"/>
<circle cx="298.36" cy="390.22" r="1.8" fill="#fff"/>
<circle cx="283.28" cy="410.60" r="0.6" fill="#fff"/>
<circle cx="271.71" cy="387.28" r="0.8" fill="#fff"/>
<circle cx="289.21" cy="402.07" r="1.1" fill="#fff"/>
<circle cx="286.59" cy="408.48" r="1.0" fill="#fff"/>
<circle cx="289.05" cy="406.44" r="0.6" fill="#fff"/>
<circle cx="303.75" cy="402.98" r="0.6" fill="#fff"/>
<circle cx="300.59" cy="405.90" r="0.5" fill="#fff"/>
<circle cx="289.09" cy="383.38" r="1.1" fill="#fff"/>
<circle cx="289.37" cy="411.76" r="0.8" fill="#fff"/>
<circle cx="277.40" cy="404.04" r="2.1" fill="#fff"/>
<circle cx="293.11" cy="378.96" r="1.1" fill="#fff"/>
<circle cx="282.26" cy="386.73" r="1.1" fill="#fff"/>
<circle cx="283.91" cy="377.82" r="1.0" fill="#fff"/>
<circle cx="296.85" cy="380.65" r="0.8" fill="#fff"/>
<circle cx="289.51" cy="387.19" r="0.6" fill="#fff"/>
<circle cx="285.14" cy="405.33" r="1.3" fill="#fff"/>
<circle cx="266.07" cy="395.82" r="1.1" fill="#fff"/>
<circle cx="278.59" cy="384.32" r="0.7" fill="#fff"/>
<circle cx="279.38" cy="379.38" r="0.8" fill="#fff"/>
<circle cx="302.13" cy="399.04" r="0.8" fill="#fff"/>
<circle cx="295.09" cy="410.77" r="0.5" fill="#fff"/>
<circle cx="284.22" cy="408.62" r="0.8" fill="#fff"/>
<circle cx="271.30" cy="406.35" r="1.0" fill="#fff"/>
<circle cx="300.18" cy="383.46" r="1.3" fill="#fff"/>
<circle cx="272.69" cy="383.48" r="0.8" fill="#fff"/>
<circle cx="305.04" cy="388.44" r="0.5" fill="#fff"/>
<circle cx="296.05" cy="383.64" r="1.1" fill="#fff"/>
<ellipse cx="285" cy="394.5" rx="7.8" ry="5.7" fill="#8a7fbe" stroke="#5f5296" stroke-width="0.9"/>
<ellipse cx="285.6" cy="395.0" rx="6.2" ry="4.3" fill="none" stroke="#ffffff" stroke-opacity="0.35" stroke-width="0.6"/>
<circle cx="281.36" cy="393.31" r="0.85" fill="#4e2a5c"/>
<circle cx="286.10" cy="393.65" r="0.85" fill="#4e2a5c"/>
<circle cx="290.19" cy="395.10" r="0.85" fill="#4e2a5c"/>
<circle cx="283.48" cy="397.96" r="0.85" fill="#4e2a5c"/>
<circle cx="286.59" cy="397.95" r="0.85" fill="#4e2a5c"/>
<circle cx="284.11" cy="391.10" r="0.85" fill="#4e2a5c"/>
<circle cx="280.72" cy="396.39" r="0.85" fill="#4e2a5c"/>
<circle cx="288.23" cy="391.64" r="0.85" fill="#4e2a5c"/>
<path d="M314.51,346.04 C315.34,343.58 320.10,344.83 323.27,342.84 C326.43,340.85 330.72,334.84 333.49,334.11 C336.27,333.38 336.74,337.49 339.91,338.46 C343.07,339.43 349.81,337.99 352.49,339.93 C355.17,341.88 354.28,347.53 355.99,350.13 C357.69,352.73 362.97,353.29 362.70,355.55 C362.43,357.82 355.98,361.03 354.37,363.70 C352.76,366.38 354.82,370.14 353.06,371.62 C351.29,373.11 347.53,371.89 343.77,372.61 C340.02,373.32 334.06,376.44 330.52,375.91 C326.97,375.39 325.15,371.25 322.50,369.46 C319.84,367.67 315.28,367.15 314.57,365.17 C313.87,363.20 318.27,360.79 318.25,357.60 C318.24,354.42 313.67,348.50 314.51,346.04Z" fill="url(#gP)" stroke="#bdb5e2" stroke-width="1.1"/>
<circle cx="329.02" cy="370.66" r="1.0" fill="#fff"/>
<circle cx="353.55" cy="346.69" r="1.3" fill="#fff"/>
<circle cx="348.86" cy="360.50" r="0.8" fill="#fff"/>
<circle cx="344.08" cy="347.31" r="0.7" fill="#fff"/>
<circle cx="346.67" cy="370.90" r="0.8" fill="#fff"/>
<circle cx="327.72" cy="346.48" r="1.8" fill="#fff"/>
<circle cx="334.12" cy="347.85" r="2.1" fill="#fff"/>
<circle cx="333.59" cy="369.48" r="0.5" fill="#fff"/>
<circle cx="330.64" cy="339.12" r="1.5" fill="#fff"/>
<circle cx="341.96" cy="350.75" r="1.8" fill="#fff"/>
<circle cx="320.70" cy="353.28" r="0.6" fill="#fff"/>
<circle cx="341.34" cy="370.85" r="0.5" fill="#fff"/>
<circle cx="335.23" cy="343.26" r="1.8" fill="#fff"/>
<circle cx="345.89" cy="366.37" r="0.7" fill="#fff"/>
<circle cx="350.77" cy="362.70" r="0.7" fill="#fff"/>
<circle cx="317.79" cy="353.51" r="1.5" fill="#fff"/>
<circle cx="325.13" cy="368.09" r="1.5" fill="#fff"/>
<circle cx="343.48" cy="367.07" r="0.7" fill="#fff"/>
<circle cx="342.17" cy="341.89" r="1.0" fill="#fff"/>
<circle cx="340.33" cy="345.56" r="1.5" fill="#fff"/>
<circle cx="352.33" cy="367.56" r="2.1" fill="#fff"/>
<circle cx="348.58" cy="342.67" r="1.8" fill="#fff"/>
<circle cx="354.75" cy="362.62" r="0.7" fill="#fff"/>
<circle cx="337.13" cy="370.26" r="0.8" fill="#fff"/>
<circle cx="319.70" cy="358.18" r="0.6" fill="#fff"/>
<circle cx="335.24" cy="339.08" r="0.6" fill="#fff"/>
<circle cx="323.43" cy="357.29" r="1.0" fill="#fff"/>
<circle cx="327.42" cy="353.78" r="1.8" fill="#fff"/>
<circle cx="325.15" cy="355.70" r="0.6" fill="#fff"/>
<circle cx="354.82" cy="359.81" r="0.7" fill="#fff"/>
<circle cx="318.17" cy="362.65" r="1.8" fill="#fff"/>
<circle cx="329.12" cy="342.47" r="0.8" fill="#fff"/>
<circle cx="330.37" cy="349.67" r="0.6" fill="#fff"/>
<circle cx="322.54" cy="351.22" r="1.0" fill="#fff"/>
<circle cx="346.60" cy="352.35" r="0.7" fill="#fff"/>
<circle cx="352.33" cy="349.86" r="0.8" fill="#fff"/>
<circle cx="339.39" cy="372.94" r="1.1" fill="#fff"/>
<circle cx="354.75" cy="352.63" r="1.0" fill="#fff"/>
<circle cx="351.19" cy="345.79" r="0.7" fill="#fff"/>
<circle cx="326.11" cy="363.55" r="0.5" fill="#fff"/>
<circle cx="336.46" cy="372.80" r="0.6" fill="#fff"/>
<circle cx="347.41" cy="356.82" r="0.6" fill="#fff"/>
<circle cx="353.78" cy="355.60" r="1.0" fill="#fff"/>
<circle cx="339.69" cy="370.39" r="0.7" fill="#fff"/>
<ellipse cx="337.5" cy="360" rx="7.8" ry="5.7" fill="#8a7fbe" stroke="#5f5296" stroke-width="0.9"/>
<ellipse cx="338.1" cy="360.5" rx="6.2" ry="4.3" fill="none" stroke="#ffffff" stroke-opacity="0.35" stroke-width="0.6"/>
<circle cx="335.47" cy="358.01" r="0.85" fill="#4e2a5c"/>
<circle cx="341.73" cy="359.36" r="0.85" fill="#4e2a5c"/>
<circle cx="340.35" cy="362.30" r="0.85" fill="#4e2a5c"/>
<circle cx="332.36" cy="360.43" r="0.85" fill="#4e2a5c"/>
<circle cx="338.68" cy="356.55" r="0.85" fill="#4e2a5c"/>
<circle cx="337.57" cy="363.63" r="0.85" fill="#4e2a5c"/>
<circle cx="335.24" cy="361.21" r="0.85" fill="#4e2a5c"/>
<circle cx="338.11" cy="360.03" r="0.85" fill="#4e2a5c"/>
<path d="M307.03,390.60 C307.59,387.61 314.37,385.34 316.46,382.86 C318.55,380.39 317.00,376.55 319.55,375.77 C322.10,374.98 328.23,378.27 331.76,378.15 C335.28,378.04 338.13,374.25 340.70,375.06 C343.28,375.86 344.22,380.50 347.19,382.97 C350.16,385.43 357.69,387.17 358.52,389.83 C359.36,392.49 352.94,396.37 352.20,398.92 C351.47,401.47 355.65,403.09 354.14,405.12 C352.63,407.16 346.79,409.12 343.14,411.13 C339.48,413.13 335.38,417.17 332.21,417.16 C329.04,417.15 326.96,412.43 324.13,411.09 C321.30,409.75 317.08,410.83 315.24,409.11 C313.40,407.39 314.46,403.86 313.09,400.77 C311.72,397.69 306.46,393.58 307.03,390.60Z" fill="url(#gP)" stroke="#bdb5e2" stroke-width="1.1"/>
<circle cx="333.34" cy="388.34" r="1.0" fill="#fff"/>
<circle cx="335.07" cy="406.31" r="2.1" fill="#fff"/>
<circle cx="328.65" cy="381.93" r="0.6" fill="#fff"/>
<circle cx="325.61" cy="406.03" r="0.8" fill="#fff"/>
<circle cx="343.26" cy="385.97" r="1.5" fill="#fff"/>
<circle cx="346.68" cy="397.22" r="0.8" fill="#fff"/>
<circle cx="342.50" cy="381.08" r="1.5" fill="#fff"/>
<circle cx="346.79" cy="402.85" r="1.8" fill="#fff"/>
<circle cx="337.13" cy="389.04" r="2.1" fill="#fff"/>
<circle cx="318.33" cy="386.52" r="0.5" fill="#fff"/>
<circle cx="340.24" cy="398.23" r="2.1" fill="#fff"/>
<circle cx="334.45" cy="382.91" r="2.1" fill="#fff"/>
<circle cx="314.09" cy="394.41" r="2.1" fill="#fff"/>
<circle cx="320.61" cy="388.75" r="1.3" fill="#fff"/>
<circle cx="349.61" cy="389.85" r="1.0" fill="#fff"/>
<circle cx="316.02" cy="403.81" r="1.3" fill="#fff"/>
<circle cx="321.67" cy="407.08" r="1.1" fill="#fff"/>
<circle cx="350.51" cy="386.80" r="1.0" fill="#fff"/>
<circle cx="342.20" cy="406.58" r="0.7" fill="#fff"/>
<circle cx="339.88" cy="410.69" r="0.8" fill="#fff"/>
<circle cx="351.87" cy="388.94" r="0.6" fill="#fff"/>
<circle cx="346.89" cy="383.09" r="1.5" fill="#fff"/>
<circle cx="327.98" cy="387.29" r="0.7" fill="#fff"/>
<circle cx="349.34" cy="397.79" r="0.8" fill="#fff"/>
<circle cx="322.11" cy="384.11" r="0.6" fill="#fff"/>
<circle cx="342.37" cy="393.97" r="0.5" fill="#fff"/>
<circle cx="340.06" cy="403.86" r="1.5" fill="#fff"/>
<circle cx="315.10" cy="385.99" r="0.5" fill="#fff"/>
<circle cx="332.45" cy="412.26" r="0.5" fill="#fff"/>
<circle cx="317.27" cy="396.65" r="0.7" fill="#fff"/>
<circle cx="324.82" cy="411.17" r="1.5" fill="#fff"/>
<circle cx="339.68" cy="407.49" r="0.8" fill="#fff"/>
<circle cx="318.14" cy="391.29" r="0.5" fill="#fff"/>
<circle cx="314.50" cy="400.78" r="1.5" fill="#fff"/>
<circle cx="346.49" cy="389.84" r="1.5" fill="#fff"/>
<circle cx="346.14" cy="399.48" r="0.8" fill="#fff"/>
<circle cx="321.39" cy="380.83" r="1.8" fill="#fff"/>
<circle cx="331.54" cy="377.68" r="0.6" fill="#fff"/>
<circle cx="340.52" cy="393.88" r="0.8" fill="#fff"/>
<circle cx="339.49" cy="379.07" r="0.8" fill="#fff"/>
<circle cx="318.99" cy="404.26" r="0.8" fill="#fff"/>
<circle cx="353.52" cy="397.46" r="0.8" fill="#fff"/>
<circle cx="341.94" cy="390.40" r="0.6" fill="#fff"/>
<circle cx="316.25" cy="388.26" r="1.3" fill="#fff"/>
<ellipse cx="328.75" cy="396.25" rx="7.8" ry="5.7" fill="#8a7fbe" stroke="#5f5296" stroke-width="0.9"/>
<ellipse cx="329.35" cy="396.75" rx="6.2" ry="4.3" fill="none" stroke="#ffffff" stroke-opacity="0.35" stroke-width="0.6"/>
<circle cx="325.81" cy="399.20" r="0.85" fill="#4e2a5c"/>
<circle cx="332.19" cy="394.76" r="0.85" fill="#4e2a5c"/>
<circle cx="327.24" cy="394.99" r="0.85" fill="#4e2a5c"/>
<circle cx="330.28" cy="399.68" r="0.85" fill="#4e2a5c"/>
<circle cx="324.36" cy="396.47" r="0.85" fill="#4e2a5c"/>
<circle cx="332.82" cy="398.00" r="0.85" fill="#4e2a5c"/>
<circle cx="329.42" cy="392.99" r="0.85" fill="#4e2a5c"/>
<circle cx="283.75" cy="333.75" r="4.4" fill="#b5661f"/><circle cx="283.55" cy="333.55" r="3.5" fill="#b94b27"/>
<circle cx="263.75" cy="347.5" r="4.4" fill="#b5661f"/><circle cx="263.55" cy="347.30" r="3.5" fill="#b94b27"/>
<circle cx="307" cy="341.25" r="4.4" fill="#b5661f"/><circle cx="306.80" cy="341.05" r="3.5" fill="#b94b27"/>
<circle cx="314.5" cy="347.5" r="4.4" fill="#b5661f"/><circle cx="314.30" cy="347.30" r="3.5" fill="#b94b27"/>
<circle cx="272.5" cy="368" r="4.4" fill="#b5661f"/><circle cx="272.30" cy="367.80" r="3.5" fill="#b94b27"/>
<circle cx="289.25" cy="372" r="4.4" fill="#b5661f"/><circle cx="289.05" cy="371.80" r="3.5" fill="#b94b27"/>
<circle cx="308.75" cy="363.75" r="4.4" fill="#b5661f"/><circle cx="308.55" cy="363.55" r="3.5" fill="#b94b27"/>
<circle cx="306.25" cy="373" r="4.4" fill="#b5661f"/><circle cx="306.05" cy="372.80" r="3.5" fill="#b94b27"/>
<circle cx="278.75" cy="379.5" r="4.4" fill="#b5661f"/><circle cx="278.55" cy="379.30" r="3.5" fill="#b94b27"/>
<circle cx="263.75" cy="387" r="4.4" fill="#b5661f"/><circle cx="263.55" cy="386.80" r="3.5" fill="#b94b27"/>
<circle cx="305" cy="386.25" r="4.4" fill="#b5661f"/><circle cx="304.80" cy="386.05" r="3.5" fill="#b94b27"/>
<circle cx="271.25" cy="405" r="4.4" fill="#b5661f"/><circle cx="271.05" cy="404.80" r="3.5" fill="#b94b27"/>
<circle cx="288.25" cy="413.75" r="4.4" fill="#b5661f"/><circle cx="288.05" cy="413.55" r="3.5" fill="#b94b27"/>
<circle cx="309.5" cy="406.25" r="4.4" fill="#b5661f"/><circle cx="309.30" cy="406.05" r="3.5" fill="#b94b27"/>
<circle cx="318.75" cy="370.5" r="4.4" fill="#b5661f"/><circle cx="318.55" cy="370.30" r="3.5" fill="#b94b27"/>
<circle cx="325" cy="378.75" r="4.4" fill="#b5661f"/><circle cx="324.80" cy="378.55" r="3.5" fill="#b94b27"/>
<circle cx="317.5" cy="381.25" r="4.4" fill="#b5661f"/><circle cx="317.30" cy="381.05" r="3.5" fill="#b94b27"/>
<circle cx="318" cy="415" r="4.4" fill="#b5661f"/><circle cx="317.80" cy="414.80" r="3.5" fill="#b94b27"/>
<circle cx="332.5" cy="342" r="4.4" fill="#b5661f"/><circle cx="332.30" cy="341.80" r="3.5" fill="#b94b27"/>
<circle cx="354.5" cy="350" r="4.4" fill="#b5661f"/><circle cx="354.30" cy="349.80" r="3.5" fill="#b94b27"/>
<circle cx="360.5" cy="365.5" r="4.4" fill="#b5661f"/><circle cx="360.30" cy="365.30" r="3.5" fill="#b94b27"/>
<circle cx="348.75" cy="376.25" r="4.4" fill="#b5661f"/><circle cx="348.55" cy="376.05" r="3.5" fill="#b94b27"/>
<circle cx="349.5" cy="383" r="4.4" fill="#b5661f"/><circle cx="349.30" cy="382.80" r="3.5" fill="#b94b27"/>
<circle cx="353.75" cy="388.75" r="4.4" fill="#b5661f"/><circle cx="353.55" cy="388.55" r="3.5" fill="#b94b27"/>
<circle cx="304.25" cy="383.75" r="4.4" fill="#b5661f"/><circle cx="304.05" cy="383.55" r="3.5" fill="#b94b27"/>
<circle cx="352.5" cy="411.25" r="4.4" fill="#b5661f"/><circle cx="352.30" cy="411.05" r="3.5" fill="#b94b27"/>
<circle cx="337.5" cy="415.5" r="4.4" fill="#b5661f"/><circle cx="337.30" cy="415.30" r="3.5" fill="#b94b27"/>
<text x="252.3" y="322.5" font-size="6.8" text-anchor="start" fill="#151515" font-weight="normal" textLength="25" lengthAdjust="spacingAndGlyphs" stroke="#262626" stroke-width="0.2">&#916;<tspan font-size="4.5" dy="-2.8">12</tspan><tspan dy="2.8">-PGJ</tspan><tspan font-size="4.5" dy="1.5">2</tspan></text>
<path d="M270.6,338 C272,328 281,322.5 291,322.5" fill="none" stroke="#d8344a" stroke-width="0.8"/>
<line x1="291.2" y1="319.6" x2="291.2" y2="325.4" stroke="#d8344a" stroke-width="0.9"/>
<text x="296.2" y="324.4" font-size="6.8" text-anchor="start" fill="#151515" font-weight="normal" textLength="11.5" lengthAdjust="spacingAndGlyphs" stroke="#262626" stroke-width="0.2">Wnt</text>
<path d="M291.7,332 C293,325 305,324 307.5,331.5" fill="none" stroke="#3a59ad" stroke-width="0.8" stroke-dasharray="1.6,1.2"/>
<path d="M307.90,334.20 L305.97,331.90 L308.93,331.38Z" fill="#3a59ad"/>
<text x="316.25" y="322.5" font-size="6.8" text-anchor="start" fill="#151515" font-weight="normal" textLength="25" lengthAdjust="spacingAndGlyphs" stroke="#262626" stroke-width="0.2">&#916;<tspan font-size="4.5" dy="-2.8">12</tspan><tspan dy="2.8">-PGJ</tspan><tspan font-size="4.5" dy="1.5">2</tspan></text>
<path d="M322.5,343.7 C324,334 332,327.5 343.7,327.5" fill="none" stroke="#d8344a" stroke-width="0.8"/>
<line x1="343.9" y1="324.7" x2="343.9" y2="330.3" stroke="#d8344a" stroke-width="0.9"/>
<text x="347.5" y="329.5" font-size="6.8" text-anchor="start" fill="#151515" font-weight="normal" textLength="12" lengthAdjust="spacingAndGlyphs" stroke="#262626" stroke-width="0.2">Wnt</text>
<path d="M343.8,338.7 C345,331 355,331 356.2,338.5" fill="none" stroke="#3a59ad" stroke-width="0.8" stroke-dasharray="1.6,1.2"/>
<path d="M356.50,341.20 L354.57,338.90 L357.53,338.38Z" fill="#3a59ad"/>
<text x="242.3" y="364.2" font-size="6.8" text-anchor="start" fill="#151515" font-weight="normal" textLength="13.5" lengthAdjust="spacingAndGlyphs" stroke="#262626" stroke-width="0.2">PGJ<tspan font-size="4.5" dy="1.5">2</tspan></text>
<path d="M261.9,357.7 C256,360 257,366.5 262.8,367.2" fill="none" stroke="#d8344a" stroke-width="0.8"/>
<path d="M265.00,367.30 L262.28,368.57 L262.54,365.58Z" fill="#d8344a"/>
<text x="241.3" y="402" font-size="6.8" text-anchor="start" fill="#151515" font-weight="normal" textLength="13.5" lengthAdjust="spacingAndGlyphs" stroke="#262626" stroke-width="0.2">PGJ<tspan font-size="4.5" dy="1.5">2</tspan></text>
<path d="M261.5,396 C256,398 257,404.2 262.8,404.7" fill="none" stroke="#d8344a" stroke-width="0.8"/>
<path d="M265.00,404.80 L262.28,406.07 L262.54,403.08Z" fill="#d8344a"/>
<line x1="237" y1="419.5" x2="237" y2="390" stroke="#111" stroke-width="1.1"/>
<path d="M237.00,390.00 L239.60,395.00 L237.00,394.20 L234.40,395.00Z" fill="#111"/>
<path d="M226.5,427.4 C221,427.4 220.4,434 220.6,439 C220.8,445 222.5,450.2 227,450.2 C231.5,450.2 233,446 231.5,442.5 C230.5,440 230.5,437 232,434.5 C233.8,431 232,427.4 226.5,427.4Z" fill="#8b2b2b"/>
<path d="M246.8,427.4 C252.3,427.4 252.9,434 252.7,439 C252.5,445 250.8,450.2 246.3,450.2 C241.8,450.2 240.3,446 241.8,442.5 C242.8,440 242.8,437 241.3,434.5 C239.5,431 241.3,427.4 246.8,427.4Z" fill="#8b2b2b"/>
<path d="M231.5,438 L235,438 L235,454" fill="none" stroke="#8b2b2b" stroke-width="1.4"/>
<path d="M241.8,438 L238.3,438 L238.3,454" fill="none" stroke="#8b2b2b" stroke-width="1.4"/>
<text x="237.1" y="470" font-size="7.1" text-anchor="middle" fill="#262626" font-weight="normal" textLength="61.8" lengthAdjust="spacingAndGlyphs" stroke="#262626" stroke-width="0.2">Kidney produces Epo</text>
<text x="272.5" y="429.3" font-size="7.1" text-anchor="start" fill="#262626" font-weight="normal" textLength="93.0" lengthAdjust="spacingAndGlyphs" stroke="#262626" stroke-width="0.2">Epo induces &#916;<tspan font-size="4.8" dy="-3">12</tspan><tspan dy="3">-PGJ</tspan><tspan font-size="4.8" dy="1.5">2</tspan><tspan dy="-1.5"> and PGE</tspan><tspan font-size="4.8" dy="1.5">2</tspan></text>
<text x="283.75" y="437.1" font-size="7.1" text-anchor="start" fill="#262626" font-weight="normal" textLength="68.75" lengthAdjust="spacingAndGlyphs" stroke="#262626" stroke-width="0.2">&#916;<tspan font-size="4.8" dy="-3">12</tspan><tspan dy="3">-PGJ</tspan><tspan font-size="4.8" dy="1.5">2</tspan><tspan dy="-1.5"> represses Wnt</tspan></text>
<text x="296.25" y="444.9" font-size="7.1" text-anchor="start" fill="#262626" font-weight="normal" textLength="43.25" lengthAdjust="spacingAndGlyphs" stroke="#262626" stroke-width="0.2">expression and</text>
<text x="290" y="452.7" font-size="7.1" text-anchor="start" fill="#262626" font-weight="normal" textLength="56.25" lengthAdjust="spacingAndGlyphs" stroke="#262626" stroke-width="0.2">blocks proliferation</text>
<text x="295.5" y="460.4" font-size="7.1" text-anchor="start" fill="#262626" font-weight="normal" textLength="45.75" lengthAdjust="spacingAndGlyphs" stroke="#262626" stroke-width="0.2">PGE<tspan font-size="4.8" dy="1.5">2</tspan><tspan dy="-1.5"> promotes</tspan></text>
<text x="298" y="468.3" font-size="7.1" text-anchor="start" fill="#262626" font-weight="normal" textLength="40.75" lengthAdjust="spacingAndGlyphs" stroke="#262626" stroke-width="0.2">differentiation</text>
<line x1="373.75" y1="371.25" x2="395.5" y2="371.25" stroke="#111" stroke-width="1.1"/>
<path d="M395.50,371.25 L390.50,373.85 L391.30,371.25 L390.50,368.65Z" fill="#111"/>
<path d="M413.77,370.46 C411.73,368.55 411.02,362.57 409.65,359.47 C408.27,356.38 405.12,354.10 405.54,351.91 C405.96,349.71 410.15,348.81 412.15,346.32 C414.16,343.84 414.71,338.40 417.56,336.99 C420.40,335.57 425.78,337.77 429.23,337.84 C432.69,337.91 435.79,336.56 438.30,337.38 C440.80,338.21 441.74,340.99 444.27,342.78 C446.81,344.57 452.71,345.42 453.50,348.11 C454.28,350.79 449.85,355.57 448.97,358.90 C448.08,362.23 449.82,365.82 448.17,368.09 C446.52,370.35 441.50,370.94 439.07,372.48 C436.65,374.02 436.49,377.60 433.63,377.34 C430.76,377.09 425.19,372.09 421.88,370.94 C418.57,369.79 415.81,372.37 413.77,370.46Z" fill="url(#gP2)" stroke="#c6c0e8" stroke-width="1.1"/>
<circle cx="415.73" cy="362.40" r="1.5" fill="#fff"/>
<circle cx="418.02" cy="354.96" r="1.3" fill="#fff"/>
<circle cx="438.57" cy="356.62" r="1.8" fill="#fff"/>
<circle cx="444.22" cy="355.07" r="0.7" fill="#fff"/>
<circle cx="435.89" cy="365.65" r="0.6" fill="#fff"/>
<circle cx="429.26" cy="345.86" r="0.6" fill="#fff"/>
<circle cx="418.29" cy="351.01" r="0.5" fill="#fff"/>
<circle cx="431.44" cy="347.01" r="0.5" fill="#fff"/>
<circle cx="439.21" cy="362.86" r="2.1" fill="#fff"/>
<circle cx="431.88" cy="343.53" r="0.8" fill="#fff"/>
<circle cx="412.03" cy="351.33" r="1.5" fill="#fff"/>
<circle cx="433.09" cy="367.81" r="1.1" fill="#fff"/>
<circle cx="449.21" cy="355.07" r="1.8" fill="#fff"/>
<circle cx="434.76" cy="339.86" r="1.8" fill="#fff"/>
<circle cx="442.18" cy="367.58" r="0.8" fill="#fff"/>
<circle cx="441.34" cy="352.80" r="0.7" fill="#fff"/>
<circle cx="445.56" cy="349.36" r="1.1" fill="#fff"/>
<circle cx="434.97" cy="343.50" r="1.3" fill="#fff"/>
<circle cx="445.94" cy="355.07" r="0.5" fill="#fff"/>
<circle cx="415.21" cy="354.67" r="1.0" fill="#fff"/>
<circle cx="425.38" cy="342.80" r="1.8" fill="#fff"/>
<circle cx="445.35" cy="367.86" r="1.1" fill="#fff"/>
<circle cx="423.35" cy="368.73" r="0.8" fill="#fff"/>
<circle cx="419.85" cy="365.85" r="1.3" fill="#fff"/>
<circle cx="410.96" cy="359.99" r="1.3" fill="#fff"/>
<circle cx="437.13" cy="370.19" r="0.5" fill="#fff"/>
<circle cx="425.39" cy="369.35" r="0.5" fill="#fff"/>
<circle cx="437.22" cy="352.30" r="1.1" fill="#fff"/>
<circle cx="434.62" cy="350.20" r="1.1" fill="#fff"/>
<circle cx="414.35" cy="345.00" r="0.7" fill="#fff"/>
<circle cx="443.70" cy="359.62" r="0.5" fill="#fff"/>
<circle cx="414.48" cy="349.60" r="0.7" fill="#fff"/>
<circle cx="445.20" cy="345.82" r="1.1" fill="#fff"/>
<circle cx="422.88" cy="345.03" r="0.8" fill="#fff"/>
<circle cx="422.58" cy="349.61" r="1.0" fill="#fff"/>
<circle cx="430.41" cy="365.85" r="1.5" fill="#fff"/>
<circle cx="441.94" cy="350.39" r="0.7" fill="#fff"/>
<circle cx="446.50" cy="352.83" r="0.8" fill="#fff"/>
<circle cx="439.09" cy="345.02" r="0.7" fill="#fff"/>
<circle cx="427.95" cy="341.64" r="0.5" fill="#fff"/>
<circle cx="448.39" cy="360.70" r="1.3" fill="#fff"/>
<circle cx="440.51" cy="371.06" r="0.7" fill="#fff"/>
<circle cx="420.75" cy="345.47" r="0.6" fill="#fff"/>
<circle cx="416.12" cy="358.66" r="0.5" fill="#fff"/>
<ellipse cx="428" cy="357.5" rx="7.8" ry="5.7" fill="#9288c4" stroke="#6a5ea0" stroke-width="0.9"/>
<ellipse cx="428.6" cy="358.0" rx="6.2" ry="4.3" fill="none" stroke="#ffffff" stroke-opacity="0.35" stroke-width="0.6"/>
<circle cx="427.25" cy="360.60" r="0.85" fill="#4e2a5c"/>
<circle cx="431.22" cy="359.21" r="0.85" fill="#4e2a5c"/>
<circle cx="429.83" cy="354.92" r="0.85" fill="#4e2a5c"/>
<circle cx="425.02" cy="355.97" r="0.85" fill="#4e2a5c"/>
<circle cx="423.05" cy="358.51" r="0.85" fill="#4e2a5c"/>
<circle cx="432.76" cy="356.11" r="0.85" fill="#4e2a5c"/>
<circle cx="427.61" cy="357.53" r="0.85" fill="#4e2a5c"/>
<path d="M459.54,332.03 C461.80,330.17 466.26,330.18 470.12,328.95 C473.98,327.71 479.90,324.20 482.70,324.61 C485.50,325.02 484.73,329.67 486.93,331.40 C489.13,333.12 494.52,332.56 495.90,334.94 C497.29,337.32 494.62,342.59 495.25,345.67 C495.88,348.75 500.76,351.21 499.67,353.42 C498.57,355.62 491.62,356.61 488.70,358.92 C485.77,361.23 484.45,366.41 482.12,367.26 C479.79,368.11 478.21,364.96 474.73,364.03 C471.26,363.09 464.01,363.03 461.27,361.64 C458.54,360.25 459.57,358.10 458.31,355.70 C457.06,353.29 454.01,349.80 453.72,347.20 C453.43,344.60 455.61,342.63 456.58,340.10 C457.55,337.57 457.29,333.88 459.54,332.03Z" fill="url(#gP2)" stroke="#c6c0e8" stroke-width="1.1"/>
<circle cx="493.32" cy="350.26" r="1.1" fill="#fff"/>
<circle cx="478.61" cy="336.64" r="1.1" fill="#fff"/>
<circle cx="462.88" cy="341.35" r="1.0" fill="#fff"/>
<circle cx="489.91" cy="351.26" r="0.5" fill="#fff"/>
<circle cx="476.64" cy="330.15" r="2.1" fill="#fff"/>
<circle cx="472.28" cy="355.83" r="1.5" fill="#fff"/>
<circle cx="470.24" cy="331.16" r="1.1" fill="#fff"/>
<circle cx="472.60" cy="336.98" r="0.6" fill="#fff"/>
<circle cx="486.15" cy="333.65" r="2.1" fill="#fff"/>
<circle cx="480.53" cy="334.02" r="0.5" fill="#fff"/>
<circle cx="482.11" cy="358.19" r="1.5" fill="#fff"/>
<circle cx="491.65" cy="352.71" r="0.5" fill="#fff"/>
<circle cx="464.16" cy="354.86" r="2.1" fill="#fff"/>
<circle cx="457.06" cy="345.21" r="1.0" fill="#fff"/>
<circle cx="460.84" cy="351.75" r="1.8" fill="#fff"/>
<circle cx="458.73" cy="353.87" r="0.6" fill="#fff"/>
<circle cx="466.02" cy="360.00" r="1.8" fill="#fff"/>
<circle cx="461.64" cy="348.88" r="0.6" fill="#fff"/>
<circle cx="487.40" cy="338.71" r="1.1" fill="#fff"/>
<circle cx="459.90" cy="345.75" r="1.3" fill="#fff"/>
<circle cx="460.16" cy="336.97" r="1.3" fill="#fff"/>
<circle cx="493.21" cy="356.13" r="1.0" fill="#fff"/>
<circle cx="477.77" cy="359.20" r="1.1" fill="#fff"/>
<circle cx="465.86" cy="339.69" r="1.8" fill="#fff"/>
<circle cx="465.94" cy="331.98" r="1.5" fill="#fff"/>
<circle cx="493.97" cy="344.09" r="0.5" fill="#fff"/>
<circle cx="471.31" cy="361.76" r="0.5" fill="#fff"/>
<circle cx="471.86" cy="359.07" r="1.0" fill="#fff"/>
<circle cx="482.99" cy="337.54" r="1.0" fill="#fff"/>
<circle cx="494.54" cy="345.99" r="0.5" fill="#fff"/>
<circle cx="496.75" cy="344.92" r="1.1" fill="#fff"/>
<circle cx="492.88" cy="353.84" r="0.5" fill="#fff"/>
<circle cx="477.56" cy="339.30" r="0.5" fill="#fff"/>
<circle cx="480.94" cy="340.31" r="1.1" fill="#fff"/>
<circle cx="469.81" cy="339.30" r="0.5" fill="#fff"/>
<circle cx="491.37" cy="342.01" r="1.8" fill="#fff"/>
<circle cx="468.07" cy="336.06" r="0.5" fill="#fff"/>
<circle cx="476.06" cy="362.40" r="0.6" fill="#fff"/>
<circle cx="486.29" cy="355.85" r="0.6" fill="#fff"/>
<circle cx="483.60" cy="354.84" r="0.6" fill="#fff"/>
<circle cx="456.96" cy="341.58" r="1.8" fill="#fff"/>
<circle cx="473.38" cy="363.47" r="1.1" fill="#fff"/>
<circle cx="476.20" cy="356.46" r="1.0" fill="#fff"/>
<circle cx="462.96" cy="358.15" r="0.7" fill="#fff"/>
<ellipse cx="473.25" cy="347" rx="7.8" ry="5.7" fill="#9288c4" stroke="#6a5ea0" stroke-width="0.9"/>
<ellipse cx="473.85" cy="347.5" rx="6.2" ry="4.3" fill="none" stroke="#ffffff" stroke-opacity="0.35" stroke-width="0.6"/>
<circle cx="475.63" cy="345.75" r="0.85" fill="#4e2a5c"/>
<circle cx="470.47" cy="345.37" r="0.85" fill="#4e2a5c"/>
<circle cx="471.18" cy="348.67" r="0.85" fill="#4e2a5c"/>
<circle cx="477.43" cy="348.52" r="0.85" fill="#4e2a5c"/>
<circle cx="473.90" cy="350.19" r="0.85" fill="#4e2a5c"/>
<circle cx="468.37" cy="347.87" r="0.85" fill="#4e2a5c"/>
<circle cx="473.45" cy="343.67" r="0.85" fill="#4e2a5c"/>
<path d="M502.54,389.67 C502.21,392.37 498.64,392.90 496.33,395.20 C494.02,397.49 491.45,402.60 488.68,403.43 C485.90,404.26 482.88,400.33 479.67,400.18 C476.46,400.02 472.26,403.60 469.42,402.48 C466.57,401.36 464.88,396.01 462.60,393.43 C460.32,390.85 456.38,389.07 455.74,387.00 C455.09,384.93 457.61,383.90 458.74,381.02 C459.87,378.14 460.69,371.74 462.50,369.73 C464.32,367.73 466.64,370.23 469.63,368.99 C472.62,367.75 477.09,362.36 480.43,362.31 C483.77,362.25 486.49,367.10 489.68,368.68 C492.86,370.26 498.11,370.06 499.55,371.78 C500.99,373.49 497.83,375.98 498.33,378.96 C498.83,381.94 502.87,386.96 502.54,389.67Z" fill="url(#gP2)" stroke="#c6c0e8" stroke-width="1.1"/>
<circle cx="498.04" cy="377.18" r="1.1" fill="#fff"/>
<circle cx="481.21" cy="401.12" r="0.6" fill="#fff"/>
<circle cx="467.02" cy="389.53" r="0.7" fill="#fff"/>
<circle cx="474.02" cy="371.95" r="0.6" fill="#fff"/>
<circle cx="495.09" cy="389.99" r="0.7" fill="#fff"/>
<circle cx="477.08" cy="396.31" r="0.8" fill="#fff"/>
<circle cx="488.33" cy="380.58" r="1.5" fill="#fff"/>
<circle cx="499.79" cy="382.24" r="2.1" fill="#fff"/>
<circle cx="486.81" cy="395.44" r="1.1" fill="#fff"/>
<circle cx="482.88" cy="396.07" r="0.6" fill="#fff"/>
<circle cx="482.50" cy="398.81" r="1.0" fill="#fff"/>
<circle cx="463.30" cy="375.72" r="2.1" fill="#fff"/>
<circle cx="486.51" cy="367.78" r="0.6" fill="#fff"/>
<circle cx="460.41" cy="385.78" r="0.7" fill="#fff"/>
<circle cx="478.47" cy="372.21" r="0.6" fill="#fff"/>
<circle cx="489.62" cy="394.63" r="0.8" fill="#fff"/>
<circle cx="488.79" cy="399.15" r="0.5" fill="#fff"/>
<circle cx="495.12" cy="372.65" r="0.7" fill="#fff"/>
<circle cx="479.62" cy="369.08" r="1.1" fill="#fff"/>
<circle cx="492.15" cy="386.02" r="1.3" fill="#fff"/>
<circle cx="462.36" cy="389.54" r="0.5" fill="#fff"/>
<circle cx="479.43" cy="394.03" r="1.5" fill="#fff"/>
<circle cx="471.36" cy="394.41" r="1.8" fill="#fff"/>
<circle cx="485.24" cy="390.06" r="1.3" fill="#fff"/>
<circle cx="494.89" cy="393.97" r="0.6" fill="#fff"/>
<circle cx="497.25" cy="379.28" r="0.6" fill="#fff"/>
<circle cx="465.02" cy="371.73" r="0.7" fill="#fff"/>
<circle cx="464.12" cy="379.98" r="0.7" fill="#fff"/>
<circle cx="484.67" cy="370.32" r="1.3" fill="#fff"/>
<circle cx="495.28" cy="381.50" r="1.1" fill="#fff"/>
<circle cx="474.36" cy="391.45" r="1.5" fill="#fff"/>
<circle cx="461.83" cy="381.41" r="0.7" fill="#fff"/>
<circle cx="493.58" cy="383.35" r="0.7" fill="#fff"/>
<circle cx="469.83" cy="389.79" r="1.5" fill="#fff"/>
<circle cx="470.39" cy="370.51" r="0.6" fill="#fff"/>
<circle cx="496.77" cy="388.26" r="0.8" fill="#fff"/>
<circle cx="461.42" cy="391.27" r="0.6" fill="#fff"/>
<circle cx="475.07" cy="369.62" r="0.6" fill="#fff"/>
<circle cx="500.02" cy="388.68" r="1.5" fill="#fff"/>
<circle cx="467.03" cy="383.57" r="1.5" fill="#fff"/>
<circle cx="472.25" cy="399.34" r="1.5" fill="#fff"/>
<circle cx="491.96" cy="398.52" r="1.1" fill="#fff"/>
<circle cx="467.07" cy="370.87" r="0.5" fill="#fff"/>
<circle cx="491.22" cy="371.33" r="0.5" fill="#fff"/>
<ellipse cx="478" cy="382.5" rx="7.8" ry="5.7" fill="#9288c4" stroke="#6a5ea0" stroke-width="0.9"/>
<ellipse cx="478.6" cy="383.0" rx="6.2" ry="4.3" fill="none" stroke="#ffffff" stroke-opacity="0.35" stroke-width="0.6"/>
<circle cx="476.36" cy="380.28" r="0.85" fill="#4e2a5c"/>
<circle cx="474.55" cy="384.10" r="0.85" fill="#4e2a5c"/>
<circle cx="480.83" cy="380.69" r="0.85" fill="#4e2a5c"/>
<circle cx="477.73" cy="385.37" r="0.85" fill="#4e2a5c"/>
<circle cx="483.09" cy="382.84" r="0.85" fill="#4e2a5c"/>
<circle cx="473.21" cy="381.14" r="0.85" fill="#4e2a5c"/>
<circle cx="481.38" cy="385.20" r="0.85" fill="#4e2a5c"/>
<path d="M416.03,411.06 C414.50,409.07 418.81,405.17 418.66,402.46 C418.50,399.74 414.46,397.07 415.09,394.77 C415.73,392.48 420.16,391.58 422.48,388.69 C424.80,385.80 425.93,378.61 429.01,377.45 C432.08,376.28 437.30,381.27 440.92,381.68 C444.54,382.10 448.59,378.66 450.73,379.94 C452.87,381.21 451.69,386.30 453.76,389.32 C455.83,392.34 462.63,395.79 463.13,398.04 C463.64,400.29 457.56,400.28 456.80,402.81 C456.04,405.35 460.21,411.16 458.57,413.25 C456.94,415.35 451.22,414.46 446.99,415.36 C442.75,416.25 436.34,418.77 433.15,418.61 C429.96,418.45 430.68,415.66 427.83,414.40 C424.97,413.14 417.56,413.05 416.03,411.06Z" fill="url(#gP2)" stroke="#c6c0e8" stroke-width="1.1"/>
<circle cx="432.25" cy="384.83" r="1.0" fill="#fff"/>
<circle cx="423.16" cy="394.95" r="0.7" fill="#fff"/>
<circle cx="430.97" cy="393.01" r="1.5" fill="#fff"/>
<circle cx="436.50" cy="411.06" r="1.5" fill="#fff"/>
<circle cx="425.94" cy="410.40" r="1.1" fill="#fff"/>
<circle cx="429.14" cy="410.40" r="0.5" fill="#fff"/>
<circle cx="425.14" cy="402.35" r="2.1" fill="#fff"/>
<circle cx="450.25" cy="404.64" r="1.0" fill="#fff"/>
<circle cx="451.28" cy="397.46" r="2.1" fill="#fff"/>
<circle cx="452.45" cy="390.12" r="1.1" fill="#fff"/>
<circle cx="419.75" cy="396.37" r="0.8" fill="#fff"/>
<circle cx="453.96" cy="393.61" r="0.8" fill="#fff"/>
<circle cx="455.16" cy="405.52" r="2.1" fill="#fff"/>
<circle cx="431.61" cy="414.03" r="0.7" fill="#fff"/>
<circle cx="432.66" cy="381.80" r="0.7" fill="#fff"/>
<circle cx="445.82" cy="410.76" r="0.8" fill="#fff"/>
<circle cx="441.29" cy="412.80" r="1.8" fill="#fff"/>
<circle cx="430.98" cy="406.10" r="2.1" fill="#fff"/>
<circle cx="442.12" cy="383.60" r="0.6" fill="#fff"/>
<circle cx="441.52" cy="388.75" r="1.5" fill="#fff"/>
<circle cx="441.28" cy="415.89" r="0.6" fill="#fff"/>
<circle cx="418.07" cy="394.07" r="0.5" fill="#fff"/>
<circle cx="435.61" cy="389.93" r="2.1" fill="#fff"/>
<circle cx="456.45" cy="400.85" r="1.1" fill="#fff"/>
<circle cx="424.20" cy="412.62" r="0.8" fill="#fff"/>
<circle cx="418.34" cy="402.76" r="0.8" fill="#fff"/>
<circle cx="443.44" cy="410.91" r="0.5" fill="#fff"/>
<circle cx="452.41" cy="409.70" r="2.1" fill="#fff"/>
<circle cx="418.09" cy="400.48" r="0.6" fill="#fff"/>
<circle cx="421.67" cy="406.02" r="1.0" fill="#fff"/>
<circle cx="428.05" cy="414.40" r="1.5" fill="#fff"/>
<circle cx="423.00" cy="398.51" r="0.7" fill="#fff"/>
<circle cx="428.15" cy="395.82" r="0.8" fill="#fff"/>
<circle cx="436.51" cy="407.16" r="0.6" fill="#fff"/>
<circle cx="425.88" cy="388.46" r="1.5" fill="#fff"/>
<circle cx="419.06" cy="404.96" r="0.8" fill="#fff"/>
<circle cx="455.01" cy="396.13" r="0.8" fill="#fff"/>
<circle cx="448.40" cy="383.17" r="0.7" fill="#fff"/>
<circle cx="431.23" cy="411.68" r="1.1" fill="#fff"/>
<circle cx="450.48" cy="386.88" r="1.5" fill="#fff"/>
<circle cx="421.66" cy="403.26" r="0.5" fill="#fff"/>
<circle cx="447.60" cy="413.70" r="0.5" fill="#fff"/>
<circle cx="435.08" cy="415.44" r="1.0" fill="#fff"/>
<circle cx="429.11" cy="389.38" r="1.1" fill="#fff"/>
<ellipse cx="440" cy="399.5" rx="7.8" ry="5.7" fill="#9288c4" stroke="#6a5ea0" stroke-width="0.9"/>
<ellipse cx="440.6" cy="400.0" rx="6.2" ry="4.3" fill="none" stroke="#ffffff" stroke-opacity="0.35" stroke-width="0.6"/>
<circle cx="441.75" cy="401.83" r="0.85" fill="#4e2a5c"/>
<circle cx="437.70" cy="397.55" r="0.85" fill="#4e2a5c"/>
<circle cx="436.36" cy="402.13" r="0.85" fill="#4e2a5c"/>
<circle cx="443.09" cy="397.05" r="0.85" fill="#4e2a5c"/>
<circle cx="434.97" cy="399.23" r="0.85" fill="#4e2a5c"/>
<circle cx="440.41" cy="398.67" r="0.85" fill="#4e2a5c"/>
<circle cx="444.70" cy="400.29" r="0.85" fill="#4e2a5c"/>
<circle cx="416.25" cy="340" r="4.5" fill="#55100f"/><circle cx="416.25" cy="340" r="3.8" fill="#8c1d21"/>
<circle cx="425.75" cy="335.75" r="4.5" fill="#55100f"/><circle cx="425.75" cy="335.75" r="3.8" fill="#8c1d21"/>
<circle cx="448.25" cy="341.75" r="4.5" fill="#55100f"/><circle cx="448.25" cy="341.75" r="3.8" fill="#8c1d21"/>
<circle cx="408" cy="353.25" r="4.5" fill="#55100f"/><circle cx="408" cy="353.25" r="3.8" fill="#8c1d21"/>
<circle cx="462.5" cy="328.75" r="4.5" fill="#55100f"/><circle cx="462.5" cy="328.75" r="3.8" fill="#8c1d21"/>
<circle cx="471.25" cy="325.75" r="4.5" fill="#55100f"/><circle cx="471.25" cy="325.75" r="3.8" fill="#8c1d21"/>
<circle cx="492.5" cy="332" r="4.5" fill="#55100f"/><circle cx="492.5" cy="332" r="3.8" fill="#8c1d21"/>
<circle cx="498.25" cy="353.25" r="4.5" fill="#55100f"/><circle cx="498.25" cy="353.25" r="3.8" fill="#8c1d21"/>
<circle cx="486.25" cy="361.25" r="4.5" fill="#55100f"/><circle cx="486.25" cy="361.25" r="3.8" fill="#8c1d21"/>
<circle cx="458.75" cy="358.75" r="4.5" fill="#55100f"/><circle cx="458.75" cy="358.75" r="3.8" fill="#8c1d21"/>
<circle cx="458" cy="364.5" r="4.5" fill="#55100f"/><circle cx="458" cy="364.5" r="3.8" fill="#8c1d21"/>
<circle cx="468" cy="367.5" r="4.5" fill="#55100f"/><circle cx="468" cy="367.5" r="3.8" fill="#8c1d21"/>
<circle cx="412.5" cy="369.5" r="4.5" fill="#55100f"/><circle cx="412.5" cy="369.5" r="3.8" fill="#8c1d21"/>
<circle cx="450" cy="371.25" r="4.5" fill="#55100f"/><circle cx="450" cy="371.25" r="3.8" fill="#8c1d21"/>
<circle cx="456.25" cy="377" r="4.5" fill="#55100f"/><circle cx="456.25" cy="377" r="3.8" fill="#8c1d21"/>
<circle cx="428.75" cy="378" r="4.5" fill="#55100f"/><circle cx="428.75" cy="378" r="3.8" fill="#8c1d21"/>
<circle cx="437" cy="375" r="4.5" fill="#55100f"/><circle cx="437" cy="375" r="3.8" fill="#8c1d21"/>
<circle cx="437.5" cy="381.25" r="4.5" fill="#55100f"/><circle cx="437.5" cy="381.25" r="3.8" fill="#8c1d21"/>
<circle cx="498" cy="373.75" r="4.5" fill="#55100f"/><circle cx="498" cy="373.75" r="3.8" fill="#8c1d21"/>
<circle cx="414.5" cy="388.75" r="4.5" fill="#55100f"/><circle cx="414.5" cy="388.75" r="3.8" fill="#8c1d21"/>
<circle cx="454.5" cy="388" r="4.5" fill="#55100f"/><circle cx="454.5" cy="388" r="3.8" fill="#8c1d21"/>
<circle cx="460" cy="394.5" r="4.5" fill="#55100f"/><circle cx="460" cy="394.5" r="3.8" fill="#8c1d21"/>
<circle cx="503" cy="393" r="4.5" fill="#55100f"/><circle cx="503" cy="393" r="3.8" fill="#8c1d21"/>
<circle cx="410.5" cy="404.5" r="4.5" fill="#55100f"/><circle cx="410.5" cy="404.5" r="3.8" fill="#8c1d21"/>
<circle cx="462.5" cy="405.5" r="4.5" fill="#55100f"/><circle cx="462.5" cy="405.5" r="3.8" fill="#8c1d21"/>
<circle cx="476.25" cy="405.5" r="4.5" fill="#55100f"/><circle cx="476.25" cy="405.5" r="3.8" fill="#8c1d21"/>
<circle cx="482.5" cy="402.5" r="4.5" fill="#55100f"/><circle cx="482.5" cy="402.5" r="3.8" fill="#8c1d21"/>
<circle cx="492" cy="403.75" r="4.5" fill="#55100f"/><circle cx="492" cy="403.75" r="3.8" fill="#8c1d21"/>
<circle cx="418" cy="413.75" r="4.5" fill="#55100f"/><circle cx="418" cy="413.75" r="3.8" fill="#8c1d21"/>
<circle cx="439.5" cy="418.75" r="4.5" fill="#55100f"/><circle cx="439.5" cy="418.75" r="3.8" fill="#8c1d21"/>
<circle cx="450.75" cy="416.25" r="4.5" fill="#55100f"/><circle cx="450.75" cy="416.25" r="3.8" fill="#8c1d21"/>
<text x="455.375" y="438.6" font-size="7.1" text-anchor="middle" fill="#262626" font-weight="normal" textLength="53.25" lengthAdjust="spacingAndGlyphs" stroke="#262626" stroke-width="0.2">Pro-differentiation</text>
<text x="455.375" y="446.6" font-size="7.1" text-anchor="middle" fill="#262626" font-weight="normal" textLength="50.75" lengthAdjust="spacingAndGlyphs" stroke="#262626" stroke-width="0.2">microenvironment</text>
<text x="455.625" y="454.4" font-size="7.1" text-anchor="middle" fill="#262626" font-weight="normal" textLength="63.75" lengthAdjust="spacingAndGlyphs" stroke="#262626" stroke-width="0.2">promotes the terminal</text>
<text x="455.375" y="462.4" font-size="7.1" text-anchor="middle" fill="#262626" font-weight="normal" textLength="76.75" lengthAdjust="spacingAndGlyphs" stroke="#262626" stroke-width="0.2">differentiation of erythroid</text>
<text x="455.375" y="469.9" font-size="7.1" text-anchor="middle" fill="#262626" font-weight="normal" textLength="46.75" lengthAdjust="spacingAndGlyphs" stroke="#262626" stroke-width="0.2">committed SEPs</text>
<circle cx="17" cy="459.25" r="4.6" fill="#f0c23a"/><circle cx="16.85" cy="459.00" r="3.1" fill="url(#gS1)"/>
<circle cx="30" cy="459.25" r="4.5" fill="#e0803a"/><circle cx="29.8" cy="459" r="3.5" fill="#cf5a2a"/>
<circle cx="43" cy="459.25" r="4.5" fill="#55100f"/><circle cx="43" cy="459.25" r="3.8" fill="#8c1d21"/>
<text x="50.75" y="462.3" font-size="7.8" text-anchor="start" fill="#111" font-weight="bold" textLength="14.8" lengthAdjust="spacingAndGlyphs">SEPs</text>
<path d="M81.45,466.87 C80.64,465.90 81.15,463.80 80.86,462.27 C80.56,460.74 78.96,458.93 79.65,457.70 C80.34,456.47 83.32,455.88 85.01,454.88 C86.69,453.89 88.44,451.81 89.77,451.72 C91.11,451.63 91.59,453.80 93.03,454.34 C94.47,454.88 97.65,453.95 98.43,454.96 C99.22,455.97 97.72,458.65 97.74,460.40 C97.77,462.15 99.16,464.21 98.58,465.43 C97.99,466.66 95.52,466.80 94.23,467.77 C92.94,468.73 92.28,471.16 90.86,471.22 C89.43,471.28 87.26,468.85 85.69,468.13 C84.12,467.40 82.26,467.85 81.45,466.87Z" fill="#c3cfee" stroke="#7d95d0" stroke-width="0.5" stroke-opacity="0.6"/>
<ellipse cx="87.0" cy="461.2" rx="3.4" ry="3" fill="#8593c4" opacity="0.8"/>
<circle cx="84.66" cy="457.01" r="0.98" fill="#fff" fill-opacity="0.85"/>
<circle cx="95.81" cy="459.08" r="1.05" fill="#fff" fill-opacity="0.85"/>
<circle cx="95.06" cy="462.11" r="1.07" fill="#fff" fill-opacity="0.85"/>
<circle cx="85.16" cy="455.96" r="0.57" fill="#fff" fill-opacity="0.85"/>
<circle cx="85.00" cy="461.99" r="0.83" fill="#fff" fill-opacity="0.85"/>
<circle cx="86.75" cy="459.98" r="0.63" fill="#fff" fill-opacity="0.85"/>
<circle cx="88.14" cy="467.64" r="0.96" fill="#fff" fill-opacity="0.85"/>
<circle cx="93.24" cy="466.41" r="0.58" fill="#fff" fill-opacity="0.85"/>
<circle cx="86.63" cy="458.88" r="0.50" fill="#fff" fill-opacity="0.85"/>
<circle cx="92.53" cy="458.38" r="0.63" fill="#fff" fill-opacity="0.85"/>
<circle cx="96.68" cy="460.49" r="0.67" fill="#fff" fill-opacity="0.85"/>
<circle cx="95.29" cy="459.93" r="0.91" fill="#fff" fill-opacity="0.85"/>
<circle cx="91.59" cy="467.56" r="0.91" fill="#fff" fill-opacity="0.85"/>
<circle cx="96.64" cy="459.85" r="0.68" fill="#fff" fill-opacity="0.85"/>
<circle cx="86.85" cy="464.01" r="0.59" fill="#fff" fill-opacity="0.85"/>
<circle cx="93.97" cy="462.92" r="0.86" fill="#fff" fill-opacity="0.85"/>
<circle cx="96.02" cy="461.32" r="0.70" fill="#fff" fill-opacity="0.85"/>
<circle cx="86.91" cy="467.02" r="0.79" fill="#fff" fill-opacity="0.85"/>
<circle cx="87.20" cy="465.86" r="0.92" fill="#fff" fill-opacity="0.85"/>
<circle cx="96.59" cy="463.56" r="0.51" fill="#fff" fill-opacity="0.85"/>
<circle cx="89.49" cy="454.86" r="0.51" fill="#fff" fill-opacity="0.85"/>
<circle cx="90.72" cy="456.71" r="0.85" fill="#fff" fill-opacity="0.85"/>
<circle cx="92.83" cy="461.37" r="0.61" fill="#fff" fill-opacity="0.85"/>
<circle cx="93.64" cy="460.14" r="0.95" fill="#fff" fill-opacity="0.85"/>
<circle cx="96.24" cy="458.36" r="0.71" fill="#fff" fill-opacity="0.85"/>
<circle cx="85.89" cy="465.35" r="0.97" fill="#fff" fill-opacity="0.85"/>
<path d="M108.75,466.87 C107.94,465.90 108.45,463.80 108.16,462.27 C107.86,460.74 106.26,458.93 106.95,457.70 C107.64,456.47 110.62,455.88 112.31,454.88 C113.99,453.89 115.74,451.81 117.07,451.72 C118.41,451.63 118.89,453.80 120.33,454.34 C121.77,454.88 124.95,453.95 125.73,454.96 C126.52,455.97 125.02,458.65 125.04,460.40 C125.07,462.15 126.46,464.21 125.88,465.43 C125.29,466.66 122.82,466.80 121.53,467.77 C120.24,468.73 119.58,471.16 118.16,471.22 C116.73,471.28 114.56,468.85 112.99,468.13 C111.42,467.40 109.56,467.85 108.75,466.87Z" fill="#b7abdf" stroke="#8a78c4" stroke-width="0.5" stroke-opacity="0.6"/>
<ellipse cx="114.3" cy="461.2" rx="3.4" ry="3" fill="#6f5ea8" opacity="0.8"/>
<circle cx="111.96" cy="457.01" r="0.98" fill="#fff" fill-opacity="0.85"/>
<circle cx="123.11" cy="459.08" r="1.05" fill="#fff" fill-opacity="0.85"/>
<circle cx="122.36" cy="462.11" r="1.07" fill="#fff" fill-opacity="0.85"/>
<circle cx="112.46" cy="455.96" r="0.57" fill="#fff" fill-opacity="0.85"/>
<circle cx="112.30" cy="461.99" r="0.83" fill="#fff" fill-opacity="0.85"/>
<circle cx="114.05" cy="459.98" r="0.63" fill="#fff" fill-opacity="0.85"/>
<circle cx="115.44" cy="467.64" r="0.96" fill="#fff" fill-opacity="0.85"/>
<circle cx="120.54" cy="466.41" r="0.58" fill="#fff" fill-opacity="0.85"/>
<circle cx="113.93" cy="458.88" r="0.50" fill="#fff" fill-opacity="0.85"/>
<circle cx="119.83" cy="458.38" r="0.63" fill="#fff" fill-opacity="0.85"/>
<circle cx="123.98" cy="460.49" r="0.67" fill="#fff" fill-opacity="0.85"/>
<circle cx="122.59" cy="459.93" r="0.91" fill="#fff" fill-opacity="0.85"/>
<circle cx="118.89" cy="467.56" r="0.91" fill="#fff" fill-opacity="0.85"/>
<circle cx="123.94" cy="459.85" r="0.68" fill="#fff" fill-opacity="0.85"/>
<circle cx="114.15" cy="464.01" r="0.59" fill="#fff" fill-opacity="0.85"/>
<circle cx="121.27" cy="462.92" r="0.86" fill="#fff" fill-opacity="0.85"/>
<circle cx="123.32" cy="461.32" r="0.70" fill="#fff" fill-opacity="0.85"/>
<circle cx="114.21" cy="467.02" r="0.79" fill="#fff" fill-opacity="0.85"/>
<circle cx="114.50" cy="465.86" r="0.92" fill="#fff" fill-opacity="0.85"/>
<circle cx="123.89" cy="463.56" r="0.51" fill="#fff" fill-opacity="0.85"/>
<circle cx="116.79" cy="454.86" r="0.51" fill="#fff" fill-opacity="0.85"/>
<circle cx="118.02" cy="456.71" r="0.85" fill="#fff" fill-opacity="0.85"/>
<circle cx="120.13" cy="461.37" r="0.61" fill="#fff" fill-opacity="0.85"/>
<circle cx="120.94" cy="460.14" r="0.95" fill="#fff" fill-opacity="0.85"/>
<circle cx="123.54" cy="458.36" r="0.71" fill="#fff" fill-opacity="0.85"/>
<circle cx="113.19" cy="465.35" r="0.97" fill="#fff" fill-opacity="0.85"/>
<text x="132" y="462.6" font-size="7.8" text-anchor="start" fill="#111" font-weight="bold" textLength="41" lengthAdjust="spacingAndGlyphs">Macrophages</text>
<rect x="0.5" y="0.5" width="519" height="485" fill="none" stroke="#000" stroke-width="1.2"/>
</svg></body></html>
